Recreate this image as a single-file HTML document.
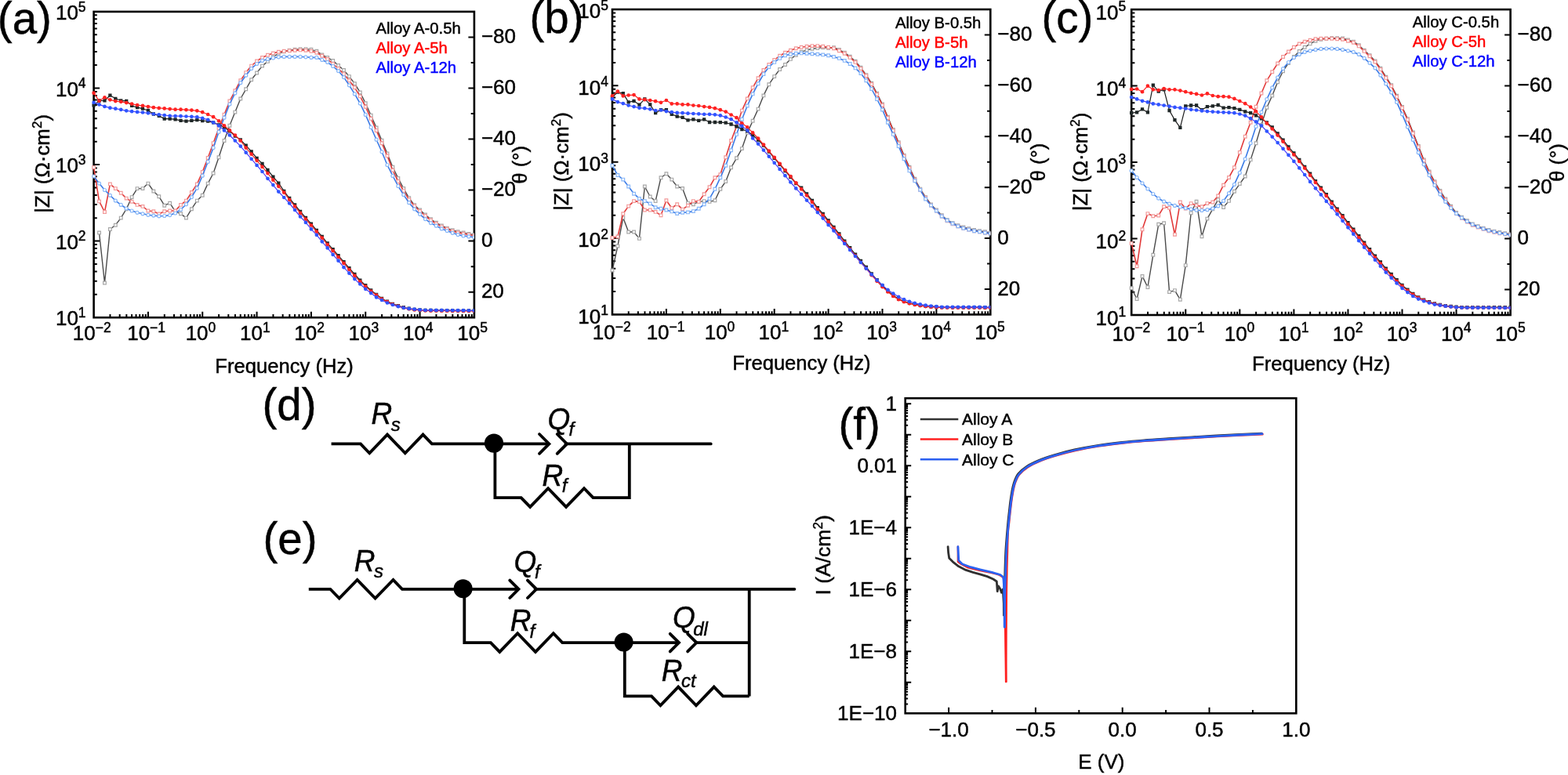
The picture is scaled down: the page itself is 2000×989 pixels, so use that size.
<!DOCTYPE html>
<html><head><meta charset="utf-8"><title>EIS figure</title>
<style>html,body{margin:0;padding:0;background:#fff;width:2000px;height:989px;overflow:hidden}svg{display:block}text{stroke:#000;stroke-width:0.45px}</style>
</head><body>
<svg width="2000" height="989" viewBox="0 0 2000 989" font-family='"Liberation Sans", Arial, sans-serif'>
<rect width="2000" height="989" fill="#fff"/>
<path d="M140.47 405.2v-4.2M152.68 405.2v-4.2M161.34 405.2v-4.2M168.06 405.2v-4.2M173.55 405.2v-4.2M178.19 405.2v-4.2M182.21 405.2v-4.2M185.76 405.2v-4.2M188.93 405.2v-7.5M209.8 405.2v-4.2M222.01 405.2v-4.2M230.67 405.2v-4.2M237.39 405.2v-4.2M242.88 405.2v-4.2M247.52 405.2v-4.2M251.54 405.2v-4.2M255.08 405.2v-4.2M258.26 405.2v-7.5M279.13 405.2v-4.2M291.34 405.2v-4.2M300 405.2v-4.2M306.72 405.2v-4.2M312.21 405.2v-4.2M316.85 405.2v-4.2M320.87 405.2v-4.2M324.41 405.2v-4.2M327.59 405.2v-7.5M348.46 405.2v-4.2M360.66 405.2v-4.2M369.33 405.2v-4.2M376.04 405.2v-4.2M381.53 405.2v-4.2M386.18 405.2v-4.2M390.2 405.2v-4.2M393.74 405.2v-4.2M396.91 405.2v-7.5M417.78 405.2v-4.2M429.99 405.2v-4.2M438.65 405.2v-4.2M445.37 405.2v-4.2M450.86 405.2v-4.2M455.5 405.2v-4.2M459.52 405.2v-4.2M463.07 405.2v-4.2M466.24 405.2v-7.5M487.11 405.2v-4.2M499.32 405.2v-4.2M507.98 405.2v-4.2M514.7 405.2v-4.2M520.19 405.2v-4.2M524.83 405.2v-4.2M528.85 405.2v-4.2M532.4 405.2v-4.2M535.57 405.2v-7.5M556.44 405.2v-4.2M568.65 405.2v-4.2M577.31 405.2v-4.2M584.03 405.2v-4.2M589.52 405.2v-4.2M594.16 405.2v-4.2M598.18 405.2v-4.2M601.73 405.2v-4.2M119.6 375.83h4.2M119.6 358.64h4.2M119.6 346.45h4.2M119.6 337h4.2M119.6 329.27h4.2M119.6 322.74h4.2M119.6 317.08h4.2M119.6 312.09h4.2M119.6 307.62h7.5M119.6 278.25h4.2M119.6 261.07h4.2M119.6 248.88h4.2M119.6 239.42h4.2M119.6 231.7h4.2M119.6 225.16h4.2M119.6 219.51h4.2M119.6 214.51h4.2M119.6 210.05h7.5M119.6 180.68h4.2M119.6 163.49h4.2M119.6 151.3h4.2M119.6 141.85h4.2M119.6 134.12h4.2M119.6 127.59h4.2M119.6 121.93h4.2M119.6 116.94h4.2M119.6 112.47h7.5M119.6 83.1h4.2M119.6 65.92h4.2M119.6 53.73h4.2M119.6 44.27h4.2M119.6 36.55h4.2M119.6 30.01h4.2M119.6 24.36h4.2M119.6 19.36h4.2M604.9 47.42h-7.5M604.9 79.95h-4.2M604.9 112.48h-7.5M604.9 145h-4.2M604.9 177.53h-7.5M604.9 210.05h-4.2M604.9 242.57h-7.5M604.9 275.1h-4.2M604.9 307.62h-7.5M604.9 340.15h-4.2M604.9 372.67h-7.5" stroke="#000" stroke-width="2.0" fill="none"/>
<rect x="119.6" y="14.9" width="485.3" height="390.3" fill="none" stroke="#000" stroke-width="2.6"/>
<text x="109.6" y="415.4" text-anchor="end" font-size="26">10<tspan font-size="17.5" dy="-10.5">1</tspan></text>
<text x="109.6" y="317.82" text-anchor="end" font-size="26">10<tspan font-size="17.5" dy="-10.5">2</tspan></text>
<text x="109.6" y="220.25" text-anchor="end" font-size="26">10<tspan font-size="17.5" dy="-10.5">3</tspan></text>
<text x="109.6" y="122.67" text-anchor="end" font-size="26">10<tspan font-size="17.5" dy="-10.5">4</tspan></text>
<text x="109.6" y="25.1" text-anchor="end" font-size="26">10<tspan font-size="17.5" dy="-10.5">5</tspan></text>
<text x="117.3" y="434" text-anchor="middle" font-size="26">10<tspan font-size="17.5" dy="-10.5">−2</tspan></text>
<text x="186.63" y="434" text-anchor="middle" font-size="26">10<tspan font-size="17.5" dy="-10.5">−1</tspan></text>
<text x="255.96" y="434" text-anchor="middle" font-size="26">10<tspan font-size="17.5" dy="-10.5">0</tspan></text>
<text x="325.29" y="434" text-anchor="middle" font-size="26">10<tspan font-size="17.5" dy="-10.5">1</tspan></text>
<text x="394.61" y="434" text-anchor="middle" font-size="26">10<tspan font-size="17.5" dy="-10.5">2</tspan></text>
<text x="463.94" y="434" text-anchor="middle" font-size="26">10<tspan font-size="17.5" dy="-10.5">3</tspan></text>
<text x="533.27" y="434" text-anchor="middle" font-size="26">10<tspan font-size="17.5" dy="-10.5">4</tspan></text>
<text x="602.6" y="434" text-anchor="middle" font-size="26">10<tspan font-size="17.5" dy="-10.5">5</tspan></text>
<text x="613.9" y="55.22" font-size="26">−80</text>
<text x="613.9" y="120.28" font-size="26">−60</text>
<text x="613.9" y="185.33" font-size="26">−40</text>
<text x="613.9" y="250.38" font-size="26">−20</text>
<text x="613.9" y="315.43" font-size="26">0</text>
<text x="613.9" y="380.47" font-size="26">20</text>
<path d="M801.74 401.4v-4.2M813.87 401.4v-4.2M822.48 401.4v-4.2M829.16 401.4v-4.2M834.61 401.4v-4.2M839.23 401.4v-4.2M843.22 401.4v-4.2M846.75 401.4v-4.2M849.9 401.4v-7.5M870.64 401.4v-4.2M882.77 401.4v-4.2M891.38 401.4v-4.2M898.06 401.4v-4.2M903.51 401.4v-4.2M908.13 401.4v-4.2M912.12 401.4v-4.2M915.65 401.4v-4.2M918.8 401.4v-7.5M939.54 401.4v-4.2M951.67 401.4v-4.2M960.28 401.4v-4.2M966.96 401.4v-4.2M972.41 401.4v-4.2M977.03 401.4v-4.2M981.02 401.4v-4.2M984.55 401.4v-4.2M987.7 401.4v-7.5M1008.44 401.4v-4.2M1020.57 401.4v-4.2M1029.18 401.4v-4.2M1035.86 401.4v-4.2M1041.31 401.4v-4.2M1045.93 401.4v-4.2M1049.92 401.4v-4.2M1053.45 401.4v-4.2M1056.6 401.4v-7.5M1077.34 401.4v-4.2M1089.47 401.4v-4.2M1098.08 401.4v-4.2M1104.76 401.4v-4.2M1110.21 401.4v-4.2M1114.83 401.4v-4.2M1118.82 401.4v-4.2M1122.35 401.4v-4.2M1125.5 401.4v-7.5M1146.24 401.4v-4.2M1158.37 401.4v-4.2M1166.98 401.4v-4.2M1173.66 401.4v-4.2M1179.11 401.4v-4.2M1183.73 401.4v-4.2M1187.72 401.4v-4.2M1191.25 401.4v-4.2M1194.4 401.4v-7.5M1215.14 401.4v-4.2M1227.27 401.4v-4.2M1235.88 401.4v-4.2M1242.56 401.4v-4.2M1248.01 401.4v-4.2M1252.63 401.4v-4.2M1256.62 401.4v-4.2M1260.15 401.4v-4.2M781 372.09h4.2M781 354.95h4.2M781 342.79h4.2M781 333.36h4.2M781 325.65h4.2M781 319.13h4.2M781 313.48h4.2M781 308.5h4.2M781 304.05h7.5M781 274.74h4.2M781 257.6h4.2M781 245.44h4.2M781 236.01h4.2M781 228.3h4.2M781 221.78h4.2M781 216.13h4.2M781 211.15h4.2M781 206.7h7.5M781 177.39h4.2M781 160.25h4.2M781 148.09h4.2M781 138.66h4.2M781 130.95h4.2M781 124.43h4.2M781 118.78h4.2M781 113.8h4.2M781 109.35h7.5M781 80.04h4.2M781 62.9h4.2M781 50.74h4.2M781 41.31h4.2M781 33.6h4.2M781 27.08h4.2M781 21.43h4.2M781 16.45h4.2M1263.3 44.45h-7.5M1263.3 76.9h-4.2M1263.3 109.35h-7.5M1263.3 141.8h-4.2M1263.3 174.25h-7.5M1263.3 206.7h-4.2M1263.3 239.15h-7.5M1263.3 271.6h-4.2M1263.3 304.05h-7.5M1263.3 336.5h-4.2M1263.3 368.95h-7.5" stroke="#000" stroke-width="2.0" fill="none"/>
<rect x="781" y="12" width="482.3" height="389.4" fill="none" stroke="#000" stroke-width="2.6"/>
<text x="776" y="412.8" text-anchor="end" font-size="26">10<tspan font-size="17.5" dy="-10.5">1</tspan></text>
<text x="776" y="315.45" text-anchor="end" font-size="26">10<tspan font-size="17.5" dy="-10.5">2</tspan></text>
<text x="776" y="218.1" text-anchor="end" font-size="26">10<tspan font-size="17.5" dy="-10.5">3</tspan></text>
<text x="776" y="120.75" text-anchor="end" font-size="26">10<tspan font-size="17.5" dy="-10.5">4</tspan></text>
<text x="776" y="23.4" text-anchor="end" font-size="26">10<tspan font-size="17.5" dy="-10.5">5</tspan></text>
<text x="780.2" y="433" text-anchor="middle" font-size="26">10<tspan font-size="17.5" dy="-10.5">−2</tspan></text>
<text x="849.1" y="433" text-anchor="middle" font-size="26">10<tspan font-size="17.5" dy="-10.5">−1</tspan></text>
<text x="918" y="433" text-anchor="middle" font-size="26">10<tspan font-size="17.5" dy="-10.5">0</tspan></text>
<text x="986.9" y="433" text-anchor="middle" font-size="26">10<tspan font-size="17.5" dy="-10.5">1</tspan></text>
<text x="1055.8" y="433" text-anchor="middle" font-size="26">10<tspan font-size="17.5" dy="-10.5">2</tspan></text>
<text x="1124.7" y="433" text-anchor="middle" font-size="26">10<tspan font-size="17.5" dy="-10.5">3</tspan></text>
<text x="1193.6" y="433" text-anchor="middle" font-size="26">10<tspan font-size="17.5" dy="-10.5">4</tspan></text>
<text x="1262.5" y="433" text-anchor="middle" font-size="26">10<tspan font-size="17.5" dy="-10.5">5</tspan></text>
<text x="1272.3" y="52.25" font-size="26">−80</text>
<text x="1272.3" y="117.15" font-size="26">−60</text>
<text x="1272.3" y="182.05" font-size="26">−40</text>
<text x="1272.3" y="246.95" font-size="26">−20</text>
<text x="1272.3" y="311.85" font-size="26">0</text>
<text x="1272.3" y="376.75" font-size="26">20</text>
<path d="M1463.99 402v-4.2M1476.15 402v-4.2M1484.78 402v-4.2M1491.47 402v-4.2M1496.94 402v-4.2M1501.56 402v-4.2M1505.56 402v-4.2M1509.1 402v-4.2M1512.26 402v-7.5M1533.05 402v-4.2M1545.21 402v-4.2M1553.83 402v-4.2M1560.53 402v-4.2M1565.99 402v-4.2M1570.62 402v-4.2M1574.62 402v-4.2M1578.15 402v-4.2M1581.31 402v-7.5M1602.1 402v-4.2M1614.26 402v-4.2M1622.89 402v-4.2M1629.58 402v-4.2M1635.05 402v-4.2M1639.67 402v-4.2M1643.68 402v-4.2M1647.21 402v-4.2M1650.37 402v-7.5M1671.16 402v-4.2M1683.32 402v-4.2M1691.95 402v-4.2M1698.64 402v-4.2M1704.11 402v-4.2M1708.73 402v-4.2M1712.74 402v-4.2M1716.27 402v-4.2M1719.43 402v-7.5M1740.22 402v-4.2M1752.38 402v-4.2M1761.01 402v-4.2M1767.7 402v-4.2M1773.17 402v-4.2M1777.79 402v-4.2M1781.79 402v-4.2M1785.33 402v-4.2M1788.49 402v-7.5M1809.27 402v-4.2M1821.43 402v-4.2M1830.06 402v-4.2M1836.75 402v-4.2M1842.22 402v-4.2M1846.85 402v-4.2M1850.85 402v-4.2M1854.38 402v-4.2M1857.54 402v-7.5M1878.33 402v-4.2M1890.49 402v-4.2M1899.12 402v-4.2M1905.81 402v-4.2M1911.28 402v-4.2M1915.9 402v-4.2M1919.91 402v-4.2M1923.44 402v-4.2M1443.2 372.66h4.2M1443.2 355.49h4.2M1443.2 343.31h4.2M1443.2 333.87h4.2M1443.2 326.15h4.2M1443.2 319.62h4.2M1443.2 313.97h4.2M1443.2 308.99h4.2M1443.2 304.52h7.5M1443.2 275.18h4.2M1443.2 258.02h4.2M1443.2 245.84h4.2M1443.2 236.39h4.2M1443.2 228.67h4.2M1443.2 222.15h4.2M1443.2 216.5h4.2M1443.2 211.51h4.2M1443.2 207.05h7.5M1443.2 177.71h4.2M1443.2 160.54h4.2M1443.2 148.36h4.2M1443.2 138.92h4.2M1443.2 131.2h4.2M1443.2 124.67h4.2M1443.2 119.02h4.2M1443.2 114.04h4.2M1443.2 109.58h7.5M1443.2 80.23h4.2M1443.2 63.07h4.2M1443.2 50.89h4.2M1443.2 41.44h4.2M1443.2 33.72h4.2M1443.2 27.2h4.2M1443.2 21.55h4.2M1443.2 16.56h4.2M1926.6 44.59h-7.5M1926.6 77.08h-4.2M1926.6 109.57h-7.5M1926.6 142.07h-4.2M1926.6 174.56h-7.5M1926.6 207.05h-4.2M1926.6 239.54h-7.5M1926.6 272.03h-4.2M1926.6 304.53h-7.5M1926.6 337.02h-4.2M1926.6 369.51h-7.5" stroke="#000" stroke-width="2.0" fill="none"/>
<rect x="1443.2" y="12.1" width="483.4" height="389.9" fill="none" stroke="#000" stroke-width="2.6"/>
<text x="1436.2" y="414.8" text-anchor="end" font-size="26">10<tspan font-size="17.5" dy="-10.5">1</tspan></text>
<text x="1436.2" y="317.32" text-anchor="end" font-size="26">10<tspan font-size="17.5" dy="-10.5">2</tspan></text>
<text x="1436.2" y="219.85" text-anchor="end" font-size="26">10<tspan font-size="17.5" dy="-10.5">3</tspan></text>
<text x="1436.2" y="122.38" text-anchor="end" font-size="26">10<tspan font-size="17.5" dy="-10.5">4</tspan></text>
<text x="1436.2" y="24.9" text-anchor="end" font-size="26">10<tspan font-size="17.5" dy="-10.5">5</tspan></text>
<text x="1442.9" y="434.5" text-anchor="middle" font-size="26">10<tspan font-size="17.5" dy="-10.5">−2</tspan></text>
<text x="1511.96" y="434.5" text-anchor="middle" font-size="26">10<tspan font-size="17.5" dy="-10.5">−1</tspan></text>
<text x="1581.01" y="434.5" text-anchor="middle" font-size="26">10<tspan font-size="17.5" dy="-10.5">0</tspan></text>
<text x="1650.07" y="434.5" text-anchor="middle" font-size="26">10<tspan font-size="17.5" dy="-10.5">1</tspan></text>
<text x="1719.13" y="434.5" text-anchor="middle" font-size="26">10<tspan font-size="17.5" dy="-10.5">2</tspan></text>
<text x="1788.19" y="434.5" text-anchor="middle" font-size="26">10<tspan font-size="17.5" dy="-10.5">3</tspan></text>
<text x="1857.24" y="434.5" text-anchor="middle" font-size="26">10<tspan font-size="17.5" dy="-10.5">4</tspan></text>
<text x="1926.3" y="434.5" text-anchor="middle" font-size="26">10<tspan font-size="17.5" dy="-10.5">5</tspan></text>
<text x="1935.6" y="52.39" font-size="26">−80</text>
<text x="1935.6" y="117.37" font-size="26">−60</text>
<text x="1935.6" y="182.36" font-size="26">−40</text>
<text x="1935.6" y="247.34" font-size="26">−20</text>
<text x="1935.6" y="312.33" font-size="26">0</text>
<text x="1935.6" y="377.31" font-size="26">20</text>
<clipPath id="clipa"><rect x="113.6" y="14.9" width="491.3" height="390.3"/></clipPath>
<g clip-path="url(#clipa)">
<polyline points="126.53,297 133.47,361 140.4,292.5 147.33,287.2 154.26,278.1 161.2,266.7 168.13,251.6 175.06,240.6 182,240.6 188.93,234.1 195.86,244 202.79,250.8 209.73,262.2 216.66,259.2 223.59,269.8 230.53,272.8 237.46,278.1 244.39,266.7 251.32,256.1 258.26,249.3 265.19,234.1 272.12,221 279.06,200.8 285.99,179.5 292.92,160.3 299.85,143.1 306.79,126 313.72,113.8 320.65,101.7 327.59,93 334.52,84.1 341.45,78.4 348.38,72.4 355.32,68.3 362.25,65.9 369.18,64.3 376.12,63.3 383.05,62.6 389.98,62.6 396.91,63.3 403.85,65.3 410.78,69.9 417.71,73.5 424.65,77.4 431.58,83.5 438.51,89.5 445.44,97.6 452.38,106.7 459.31,117.9 466.24,131.7 473.18,147.3 480.11,163 487.04,179.2 493.97,195.9 500.91,213.2 507.84,227.4 514.77,240.5 521.71,252.7 528.64,261.8 535.57,268 542.5,274 549.44,279.8 556.37,284.3 563.3,287.9 570.24,291.1 577.17,293.8 584.1,295.7 591.03,297 597.97,298.4 604.9,299.8" fill="none" stroke="#4a4a4a" stroke-width="1.4" stroke-linejoin="round"/>
<path d="M124.68 295.15h3.7v3.7h-3.7zM131.62 359.15h3.7v3.7h-3.7zM138.55 290.65h3.7v3.7h-3.7zM145.48 285.35h3.7v3.7h-3.7zM152.41 276.25h3.7v3.7h-3.7zM159.35 264.85h3.7v3.7h-3.7zM166.28 249.75h3.7v3.7h-3.7zM173.21 238.75h3.7v3.7h-3.7zM180.15 238.75h3.7v3.7h-3.7zM187.08 232.25h3.7v3.7h-3.7zM194.01 242.15h3.7v3.7h-3.7zM200.94 248.95h3.7v3.7h-3.7zM207.88 260.35h3.7v3.7h-3.7zM214.81 257.35h3.7v3.7h-3.7zM221.74 267.95h3.7v3.7h-3.7zM228.68 270.95h3.7v3.7h-3.7zM235.61 276.25h3.7v3.7h-3.7zM242.54 264.85h3.7v3.7h-3.7zM249.47 254.25h3.7v3.7h-3.7zM256.41 247.45h3.7v3.7h-3.7zM263.34 232.25h3.7v3.7h-3.7zM270.27 219.15h3.7v3.7h-3.7zM277.21 198.95h3.7v3.7h-3.7zM284.14 177.65h3.7v3.7h-3.7zM291.07 158.45h3.7v3.7h-3.7zM298 141.25h3.7v3.7h-3.7zM304.94 124.15h3.7v3.7h-3.7zM311.87 111.95h3.7v3.7h-3.7zM318.8 99.85h3.7v3.7h-3.7zM325.74 91.15h3.7v3.7h-3.7zM332.67 82.25h3.7v3.7h-3.7zM339.6 76.55h3.7v3.7h-3.7zM346.53 70.55h3.7v3.7h-3.7zM353.47 66.45h3.7v3.7h-3.7zM360.4 64.05h3.7v3.7h-3.7zM367.33 62.45h3.7v3.7h-3.7zM374.27 61.45h3.7v3.7h-3.7zM381.2 60.75h3.7v3.7h-3.7zM388.13 60.75h3.7v3.7h-3.7zM395.06 61.45h3.7v3.7h-3.7zM402 63.45h3.7v3.7h-3.7zM408.93 68.05h3.7v3.7h-3.7zM415.86 71.65h3.7v3.7h-3.7zM422.8 75.55h3.7v3.7h-3.7zM429.73 81.65h3.7v3.7h-3.7zM436.66 87.65h3.7v3.7h-3.7zM443.59 95.75h3.7v3.7h-3.7zM450.53 104.85h3.7v3.7h-3.7zM457.46 116.05h3.7v3.7h-3.7zM464.39 129.85h3.7v3.7h-3.7zM471.33 145.45h3.7v3.7h-3.7zM478.26 161.15h3.7v3.7h-3.7zM485.19 177.35h3.7v3.7h-3.7zM492.12 194.05h3.7v3.7h-3.7zM499.06 211.35h3.7v3.7h-3.7zM505.99 225.55h3.7v3.7h-3.7zM512.92 238.65h3.7v3.7h-3.7zM519.86 250.85h3.7v3.7h-3.7zM526.79 259.95h3.7v3.7h-3.7zM533.72 266.15h3.7v3.7h-3.7zM540.65 272.15h3.7v3.7h-3.7zM547.59 277.95h3.7v3.7h-3.7zM554.52 282.45h3.7v3.7h-3.7zM561.45 286.05h3.7v3.7h-3.7zM568.39 289.25h3.7v3.7h-3.7zM575.32 291.95h3.7v3.7h-3.7zM582.25 293.85h3.7v3.7h-3.7zM589.18 295.15h3.7v3.7h-3.7zM596.12 296.55h3.7v3.7h-3.7zM603.05 297.95h3.7v3.7h-3.7z" fill="#fff" stroke="#a8a8a8" stroke-width="1.2"/>
<polyline points="119.6,213.6 126.53,256.9 133.47,270.5 140.4,234.9 147.33,240.6 154.26,246.3 161.2,253.1 168.13,257.3 175.06,261.4 182,263.4 188.93,269 195.86,269.8 202.79,273 209.73,269.8 216.66,269 223.59,269 230.53,261.4 237.46,256.1 244.39,245.5 251.32,234.9 258.26,219.4 265.19,201.5 272.12,182.6 279.06,163.4 285.99,146.2 292.92,129 299.85,115.8 306.79,102.7 313.72,92.6 320.65,84.1 327.59,78 334.52,73.4 341.45,70.3 348.38,67.9 355.32,66.3 362.25,65.3 369.18,64.7 376.12,64.3 383.05,63.9 389.98,64.3 396.91,65.3 403.85,67.3 410.78,71.3 417.71,75.4 424.65,81.5 431.58,87.5 438.51,94.6 445.44,102.7 452.38,111.8 459.31,122.9 466.24,136.2 473.18,151.4 480.11,166.6 487.04,182.7 493.97,198.9 500.91,217.3 507.84,231.4 514.77,243.6 521.71,254.7 528.64,263 535.57,269.5 542.5,275.5 549.44,281 556.37,285.5 563.3,289.1 570.24,292.3 577.17,295 584.1,296.9 591.03,298.2 597.97,299.6 604.9,301" fill="none" stroke="#e23a3a" stroke-width="1.6" stroke-linejoin="round"/>
<path d="M117.75 211.75h3.7v3.7h-3.7zM124.68 255.05h3.7v3.7h-3.7zM131.62 268.65h3.7v3.7h-3.7zM138.55 233.05h3.7v3.7h-3.7zM145.48 238.75h3.7v3.7h-3.7zM152.41 244.45h3.7v3.7h-3.7zM159.35 251.25h3.7v3.7h-3.7zM166.28 255.45h3.7v3.7h-3.7zM173.21 259.55h3.7v3.7h-3.7zM180.15 261.55h3.7v3.7h-3.7zM187.08 267.15h3.7v3.7h-3.7zM194.01 267.95h3.7v3.7h-3.7zM200.94 271.15h3.7v3.7h-3.7zM207.88 267.95h3.7v3.7h-3.7zM214.81 267.15h3.7v3.7h-3.7zM221.74 267.15h3.7v3.7h-3.7zM228.68 259.55h3.7v3.7h-3.7zM235.61 254.25h3.7v3.7h-3.7zM242.54 243.65h3.7v3.7h-3.7zM249.47 233.05h3.7v3.7h-3.7zM256.41 217.55h3.7v3.7h-3.7zM263.34 199.65h3.7v3.7h-3.7zM270.27 180.75h3.7v3.7h-3.7zM277.21 161.55h3.7v3.7h-3.7zM284.14 144.35h3.7v3.7h-3.7zM291.07 127.15h3.7v3.7h-3.7zM298 113.95h3.7v3.7h-3.7zM304.94 100.85h3.7v3.7h-3.7zM311.87 90.75h3.7v3.7h-3.7zM318.8 82.25h3.7v3.7h-3.7zM325.74 76.15h3.7v3.7h-3.7zM332.67 71.55h3.7v3.7h-3.7zM339.6 68.45h3.7v3.7h-3.7zM346.53 66.05h3.7v3.7h-3.7zM353.47 64.45h3.7v3.7h-3.7zM360.4 63.45h3.7v3.7h-3.7zM367.33 62.85h3.7v3.7h-3.7zM374.27 62.45h3.7v3.7h-3.7zM381.2 62.05h3.7v3.7h-3.7zM388.13 62.45h3.7v3.7h-3.7zM395.06 63.45h3.7v3.7h-3.7zM402 65.45h3.7v3.7h-3.7zM408.93 69.45h3.7v3.7h-3.7zM415.86 73.55h3.7v3.7h-3.7zM422.8 79.65h3.7v3.7h-3.7zM429.73 85.65h3.7v3.7h-3.7zM436.66 92.75h3.7v3.7h-3.7zM443.59 100.85h3.7v3.7h-3.7zM450.53 109.95h3.7v3.7h-3.7zM457.46 121.05h3.7v3.7h-3.7zM464.39 134.35h3.7v3.7h-3.7zM471.33 149.55h3.7v3.7h-3.7zM478.26 164.75h3.7v3.7h-3.7zM485.19 180.85h3.7v3.7h-3.7zM492.12 197.05h3.7v3.7h-3.7zM499.06 215.45h3.7v3.7h-3.7zM505.99 229.55h3.7v3.7h-3.7zM512.92 241.75h3.7v3.7h-3.7zM519.86 252.85h3.7v3.7h-3.7zM526.79 261.15h3.7v3.7h-3.7zM533.72 267.65h3.7v3.7h-3.7zM540.65 273.65h3.7v3.7h-3.7zM547.59 279.15h3.7v3.7h-3.7zM554.52 283.65h3.7v3.7h-3.7zM561.45 287.25h3.7v3.7h-3.7zM568.39 290.45h3.7v3.7h-3.7zM575.32 293.15h3.7v3.7h-3.7zM582.25 295.05h3.7v3.7h-3.7zM589.18 296.35h3.7v3.7h-3.7zM596.12 297.75h3.7v3.7h-3.7zM603.05 299.15h3.7v3.7h-3.7z" fill="#fff" stroke="#f29a9a" stroke-width="1.2"/>
<polyline points="119.6,225 126.53,234.1 133.47,242.5 140.4,249.3 147.33,256.1 154.26,261.4 161.2,266 168.13,269 175.06,271.3 182,272.8 188.93,274.3 195.86,275.1 202.79,275.8 209.73,275.5 216.66,274.6 223.59,272 230.53,267.5 237.46,260.7 244.39,251.6 251.32,240.2 258.26,224.2 265.19,206.5 272.12,188.6 279.06,168.4 285.99,150.2 292.92,133 299.85,118.9 306.79,105.7 313.72,96.2 320.65,87.5 327.59,81.5 334.52,77.4 341.45,75.4 348.38,74 355.32,72.8 362.25,72.4 369.18,72.4 376.12,72.4 383.05,72.4 389.98,72.8 396.91,73.4 403.85,73.4 410.78,76.4 417.71,79.4 424.65,84.5 431.58,90.6 438.51,98.6 445.44,108.8 452.38,119.9 459.31,132 466.24,146.4 473.18,162.5 480.11,178.2 487.04,193.8 493.97,210.5 500.91,224.4 507.84,237.5 514.77,248.6 521.71,258.7 528.64,266.8 535.57,273.3 542.5,279.6 549.44,284.6 556.37,288.2 563.3,291.9 570.24,294.6 577.17,297.3 584.1,299.6 591.03,301 597.97,301.9 604.9,302.8" fill="none" stroke="#3b7be6" stroke-width="1.6" stroke-linejoin="round"/>
<g fill="#fff" stroke="#8ab8f8" stroke-width="1.2"><circle cx="119.6" cy="225" r="2.0"/><circle cx="126.53" cy="234.1" r="2.0"/><circle cx="133.47" cy="242.5" r="2.0"/><circle cx="140.4" cy="249.3" r="2.0"/><circle cx="147.33" cy="256.1" r="2.0"/><circle cx="154.26" cy="261.4" r="2.0"/><circle cx="161.2" cy="266" r="2.0"/><circle cx="168.13" cy="269" r="2.0"/><circle cx="175.06" cy="271.3" r="2.0"/><circle cx="182" cy="272.8" r="2.0"/><circle cx="188.93" cy="274.3" r="2.0"/><circle cx="195.86" cy="275.1" r="2.0"/><circle cx="202.79" cy="275.8" r="2.0"/><circle cx="209.73" cy="275.5" r="2.0"/><circle cx="216.66" cy="274.6" r="2.0"/><circle cx="223.59" cy="272" r="2.0"/><circle cx="230.53" cy="267.5" r="2.0"/><circle cx="237.46" cy="260.7" r="2.0"/><circle cx="244.39" cy="251.6" r="2.0"/><circle cx="251.32" cy="240.2" r="2.0"/><circle cx="258.26" cy="224.2" r="2.0"/><circle cx="265.19" cy="206.5" r="2.0"/><circle cx="272.12" cy="188.6" r="2.0"/><circle cx="279.06" cy="168.4" r="2.0"/><circle cx="285.99" cy="150.2" r="2.0"/><circle cx="292.92" cy="133" r="2.0"/><circle cx="299.85" cy="118.9" r="2.0"/><circle cx="306.79" cy="105.7" r="2.0"/><circle cx="313.72" cy="96.2" r="2.0"/><circle cx="320.65" cy="87.5" r="2.0"/><circle cx="327.59" cy="81.5" r="2.0"/><circle cx="334.52" cy="77.4" r="2.0"/><circle cx="341.45" cy="75.4" r="2.0"/><circle cx="348.38" cy="74" r="2.0"/><circle cx="355.32" cy="72.8" r="2.0"/><circle cx="362.25" cy="72.4" r="2.0"/><circle cx="369.18" cy="72.4" r="2.0"/><circle cx="376.12" cy="72.4" r="2.0"/><circle cx="383.05" cy="72.4" r="2.0"/><circle cx="389.98" cy="72.8" r="2.0"/><circle cx="396.91" cy="73.4" r="2.0"/><circle cx="403.85" cy="73.4" r="2.0"/><circle cx="410.78" cy="76.4" r="2.0"/><circle cx="417.71" cy="79.4" r="2.0"/><circle cx="424.65" cy="84.5" r="2.0"/><circle cx="431.58" cy="90.6" r="2.0"/><circle cx="438.51" cy="98.6" r="2.0"/><circle cx="445.44" cy="108.8" r="2.0"/><circle cx="452.38" cy="119.9" r="2.0"/><circle cx="459.31" cy="132" r="2.0"/><circle cx="466.24" cy="146.4" r="2.0"/><circle cx="473.18" cy="162.5" r="2.0"/><circle cx="480.11" cy="178.2" r="2.0"/><circle cx="487.04" cy="193.8" r="2.0"/><circle cx="493.97" cy="210.5" r="2.0"/><circle cx="500.91" cy="224.4" r="2.0"/><circle cx="507.84" cy="237.5" r="2.0"/><circle cx="514.77" cy="248.6" r="2.0"/><circle cx="521.71" cy="258.7" r="2.0"/><circle cx="528.64" cy="266.8" r="2.0"/><circle cx="535.57" cy="273.3" r="2.0"/><circle cx="542.5" cy="279.6" r="2.0"/><circle cx="549.44" cy="284.6" r="2.0"/><circle cx="556.37" cy="288.2" r="2.0"/><circle cx="563.3" cy="291.9" r="2.0"/><circle cx="570.24" cy="294.6" r="2.0"/><circle cx="577.17" cy="297.3" r="2.0"/><circle cx="584.1" cy="299.6" r="2.0"/><circle cx="591.03" cy="301" r="2.0"/><circle cx="597.97" cy="301.9" r="2.0"/><circle cx="604.9" cy="302.8" r="2.0"/></g>
<polyline points="119.6,134.4 126.53,128.5 133.47,128.3 140.4,121.7 147.33,125.8 154.26,128.3 161.2,128.8 168.13,134.9 175.06,137.2 182,138.7 188.93,141 195.86,145.5 202.79,147.8 209.73,151.6 216.66,151.6 223.59,152.3 230.53,153.8 237.46,154.6 244.39,153.8 251.32,153.1 258.26,154 265.19,154.6 272.12,156.3 279.06,159.3 285.99,162.3 292.92,167.4 299.85,173.5 306.79,178.5 313.72,185.6 320.65,193.3 327.59,201.8 334.52,208.9 341.45,217 348.38,225.6 355.32,233.7 362.25,243.9 369.18,253 376.12,261.5 383.05,270 389.98,277.8 396.91,285.7 403.85,293.8 410.78,301.8 417.71,310.3 424.65,318.2 431.58,326.2 438.51,334.1 445.44,342.2 452.38,350 459.31,357.73 466.24,364.25 473.18,370.48 480.11,375.8 487.04,380.93 493.97,384.66 500.91,387.86 507.84,390.16 514.77,392.26 521.71,393.76 528.64,394.86 535.57,395.46 542.5,395.96 549.44,396.02 556.37,396.07 563.3,396.13 570.24,396.18 577.17,396.24 584.1,396.29 591.03,396.35 597.97,396.4 604.9,396.46" fill="none" stroke="#1c1c1c" stroke-width="1.2" stroke-linejoin="round"/>
<path d="M117.45 132.25h4.3v4.3h-4.3zM124.38 126.35h4.3v4.3h-4.3zM131.32 126.15h4.3v4.3h-4.3zM138.25 119.55h4.3v4.3h-4.3zM145.18 123.65h4.3v4.3h-4.3zM152.11 126.15h4.3v4.3h-4.3zM159.05 126.65h4.3v4.3h-4.3zM165.98 132.75h4.3v4.3h-4.3zM172.91 135.05h4.3v4.3h-4.3zM179.85 136.55h4.3v4.3h-4.3zM186.78 138.85h4.3v4.3h-4.3zM193.71 143.35h4.3v4.3h-4.3zM200.64 145.65h4.3v4.3h-4.3zM207.58 149.45h4.3v4.3h-4.3zM214.51 149.45h4.3v4.3h-4.3zM221.44 150.15h4.3v4.3h-4.3zM228.38 151.65h4.3v4.3h-4.3zM235.31 152.45h4.3v4.3h-4.3zM242.24 151.65h4.3v4.3h-4.3zM249.17 150.95h4.3v4.3h-4.3zM256.11 151.85h4.3v4.3h-4.3zM263.04 152.45h4.3v4.3h-4.3zM269.97 154.15h4.3v4.3h-4.3zM276.91 157.15h4.3v4.3h-4.3zM283.84 160.15h4.3v4.3h-4.3zM290.77 165.25h4.3v4.3h-4.3zM297.7 171.35h4.3v4.3h-4.3zM304.64 176.35h4.3v4.3h-4.3zM311.57 183.45h4.3v4.3h-4.3zM318.5 191.15h4.3v4.3h-4.3zM325.44 199.65h4.3v4.3h-4.3zM332.37 206.75h4.3v4.3h-4.3zM339.3 214.85h4.3v4.3h-4.3zM346.23 223.45h4.3v4.3h-4.3zM353.17 231.55h4.3v4.3h-4.3zM360.1 241.75h4.3v4.3h-4.3zM367.03 250.85h4.3v4.3h-4.3zM373.97 259.35h4.3v4.3h-4.3zM380.9 267.85h4.3v4.3h-4.3zM387.83 275.65h4.3v4.3h-4.3zM394.76 283.55h4.3v4.3h-4.3zM401.7 291.65h4.3v4.3h-4.3zM408.63 299.65h4.3v4.3h-4.3zM415.56 308.15h4.3v4.3h-4.3zM422.5 316.05h4.3v4.3h-4.3zM429.43 324.05h4.3v4.3h-4.3zM436.36 331.95h4.3v4.3h-4.3zM443.29 340.05h4.3v4.3h-4.3zM450.23 347.85h4.3v4.3h-4.3zM457.16 355.58h4.3v4.3h-4.3zM464.09 362.1h4.3v4.3h-4.3zM471.03 368.33h4.3v4.3h-4.3zM477.96 373.65h4.3v4.3h-4.3zM484.89 378.78h4.3v4.3h-4.3zM491.82 382.51h4.3v4.3h-4.3zM498.76 385.71h4.3v4.3h-4.3zM505.69 388.01h4.3v4.3h-4.3zM512.62 390.11h4.3v4.3h-4.3zM519.56 391.61h4.3v4.3h-4.3zM526.49 392.71h4.3v4.3h-4.3zM533.42 393.31h4.3v4.3h-4.3zM540.35 393.81h4.3v4.3h-4.3zM547.29 393.87h4.3v4.3h-4.3zM554.22 393.92h4.3v4.3h-4.3zM561.15 393.98h4.3v4.3h-4.3zM568.09 394.03h4.3v4.3h-4.3zM575.02 394.09h4.3v4.3h-4.3zM581.95 394.14h4.3v4.3h-4.3zM588.88 394.2h4.3v4.3h-4.3zM595.82 394.25h4.3v4.3h-4.3zM602.75 394.31h4.3v4.3h-4.3z" fill="#1e2626"/>
<polyline points="119.6,118.7 126.53,128.8 133.47,124.3 140.4,127.3 147.33,129.1 154.26,129.8 161.2,131.1 168.13,132.6 175.06,134.1 182,134.9 188.93,136.1 195.86,137.2 202.79,137.9 209.73,138.4 216.66,139.1 223.59,139.7 230.53,139.7 237.46,140.2 244.39,140.6 251.32,141.3 258.26,143.2 265.19,146 272.12,149.2 279.06,154.3 285.99,160.3 292.92,166.4 299.85,172.5 306.79,179.5 313.72,188.6 320.65,196.7 327.59,204.8 334.52,212.9 341.45,221.1 348.38,229.7 355.32,237.8 362.25,245.7 369.18,254.8 376.12,263.3 383.05,271.8 389.98,279.6 396.91,287.5 403.85,295.6 410.78,303.6 417.71,312.1 424.65,320 431.58,328 438.51,335.9 445.44,344 452.38,351.8 459.31,359.3 466.24,365.6 473.18,371.6 480.11,376.7 487.04,381.6 493.97,385.2 500.91,388.4 507.84,390.7 514.77,392.8 521.71,394.3 528.64,395.4 535.57,396 542.5,396.5 549.44,396.56 556.37,396.61 563.3,396.67 570.24,396.72 577.17,396.78 584.1,396.83 591.03,396.89 597.97,396.94 604.9,397" fill="none" stroke="#ff2020" stroke-width="1.2" stroke-linejoin="round"/>
<g fill="#ff2222"><circle cx="119.6" cy="118.7" r="2.35"/><circle cx="126.53" cy="128.8" r="2.35"/><circle cx="133.47" cy="124.3" r="2.35"/><circle cx="140.4" cy="127.3" r="2.35"/><circle cx="147.33" cy="129.1" r="2.35"/><circle cx="154.26" cy="129.8" r="2.35"/><circle cx="161.2" cy="131.1" r="2.35"/><circle cx="168.13" cy="132.6" r="2.35"/><circle cx="175.06" cy="134.1" r="2.35"/><circle cx="182" cy="134.9" r="2.35"/><circle cx="188.93" cy="136.1" r="2.35"/><circle cx="195.86" cy="137.2" r="2.35"/><circle cx="202.79" cy="137.9" r="2.35"/><circle cx="209.73" cy="138.4" r="2.35"/><circle cx="216.66" cy="139.1" r="2.35"/><circle cx="223.59" cy="139.7" r="2.35"/><circle cx="230.53" cy="139.7" r="2.35"/><circle cx="237.46" cy="140.2" r="2.35"/><circle cx="244.39" cy="140.6" r="2.35"/><circle cx="251.32" cy="141.3" r="2.35"/><circle cx="258.26" cy="143.2" r="2.35"/><circle cx="265.19" cy="146" r="2.35"/><circle cx="272.12" cy="149.2" r="2.35"/><circle cx="279.06" cy="154.3" r="2.35"/><circle cx="285.99" cy="160.3" r="2.35"/><circle cx="292.92" cy="166.4" r="2.35"/><circle cx="299.85" cy="172.5" r="2.35"/><circle cx="306.79" cy="179.5" r="2.35"/><circle cx="313.72" cy="188.6" r="2.35"/><circle cx="320.65" cy="196.7" r="2.35"/><circle cx="327.59" cy="204.8" r="2.35"/><circle cx="334.52" cy="212.9" r="2.35"/><circle cx="341.45" cy="221.1" r="2.35"/><circle cx="348.38" cy="229.7" r="2.35"/><circle cx="355.32" cy="237.8" r="2.35"/><circle cx="362.25" cy="245.7" r="2.35"/><circle cx="369.18" cy="254.8" r="2.35"/><circle cx="376.12" cy="263.3" r="2.35"/><circle cx="383.05" cy="271.8" r="2.35"/><circle cx="389.98" cy="279.6" r="2.35"/><circle cx="396.91" cy="287.5" r="2.35"/><circle cx="403.85" cy="295.6" r="2.35"/><circle cx="410.78" cy="303.6" r="2.35"/><circle cx="417.71" cy="312.1" r="2.35"/><circle cx="424.65" cy="320" r="2.35"/><circle cx="431.58" cy="328" r="2.35"/><circle cx="438.51" cy="335.9" r="2.35"/><circle cx="445.44" cy="344" r="2.35"/><circle cx="452.38" cy="351.8" r="2.35"/><circle cx="459.31" cy="359.3" r="2.35"/><circle cx="466.24" cy="365.6" r="2.35"/><circle cx="473.18" cy="371.6" r="2.35"/><circle cx="480.11" cy="376.7" r="2.35"/><circle cx="487.04" cy="381.6" r="2.35"/><circle cx="493.97" cy="385.2" r="2.35"/><circle cx="500.91" cy="388.4" r="2.35"/><circle cx="507.84" cy="390.7" r="2.35"/><circle cx="514.77" cy="392.8" r="2.35"/><circle cx="521.71" cy="394.3" r="2.35"/><circle cx="528.64" cy="395.4" r="2.35"/><circle cx="535.57" cy="396" r="2.35"/><circle cx="542.5" cy="396.5" r="2.35"/><circle cx="549.44" cy="396.56" r="2.35"/><circle cx="556.37" cy="396.61" r="2.35"/><circle cx="563.3" cy="396.67" r="2.35"/><circle cx="570.24" cy="396.72" r="2.35"/><circle cx="577.17" cy="396.78" r="2.35"/><circle cx="584.1" cy="396.83" r="2.35"/><circle cx="591.03" cy="396.89" r="2.35"/><circle cx="597.97" cy="396.94" r="2.35"/><circle cx="604.9" cy="397" r="2.35"/></g>
<polyline points="119.6,130.8 126.53,133.4 133.47,135.9 140.4,137.7 147.33,138.7 154.26,139.9 161.2,141.3 168.13,142.2 175.06,142.9 182,143.5 188.93,144.3 195.86,145.5 202.79,146.3 209.73,147 216.66,147.8 223.59,148.1 230.53,148.2 237.46,148.5 244.39,148.8 251.32,149.3 258.26,150.8 265.19,152.8 272.12,156.3 279.06,160.3 285.99,166.4 292.92,172.5 299.85,179.5 306.79,186.6 313.72,194.7 320.65,202.8 327.59,210.9 334.52,219 341.45,227.8 348.38,236.1 355.32,244.6 362.25,252 369.18,259.5 376.12,268 383.05,276.5 389.98,283.9 396.91,292.4 403.85,299.8 410.78,308.3 417.71,316.4 424.65,324.9 431.58,332.7 438.51,341.2 445.44,348.7 452.38,356.1 459.31,362.5 466.24,368.8 473.18,374.1 480.11,379.4 487.04,383 493.97,386.5 500.91,389 507.84,391.1 514.77,392.8 521.71,393.9 528.64,394.7 535.57,395.4 542.5,395.8 549.44,395.86 556.37,395.91 563.3,395.97 570.24,396.02 577.17,396.08 584.1,396.13 591.03,396.19 597.97,396.24 604.9,396.3" fill="none" stroke="#4a3cff" stroke-width="1.2" stroke-linejoin="round"/>
<g fill="#2f55ff"><circle cx="119.6" cy="130.8" r="2.35"/><circle cx="126.53" cy="133.4" r="2.35"/><circle cx="133.47" cy="135.9" r="2.35"/><circle cx="140.4" cy="137.7" r="2.35"/><circle cx="147.33" cy="138.7" r="2.35"/><circle cx="154.26" cy="139.9" r="2.35"/><circle cx="161.2" cy="141.3" r="2.35"/><circle cx="168.13" cy="142.2" r="2.35"/><circle cx="175.06" cy="142.9" r="2.35"/><circle cx="182" cy="143.5" r="2.35"/><circle cx="188.93" cy="144.3" r="2.35"/><circle cx="195.86" cy="145.5" r="2.35"/><circle cx="202.79" cy="146.3" r="2.35"/><circle cx="209.73" cy="147" r="2.35"/><circle cx="216.66" cy="147.8" r="2.35"/><circle cx="223.59" cy="148.1" r="2.35"/><circle cx="230.53" cy="148.2" r="2.35"/><circle cx="237.46" cy="148.5" r="2.35"/><circle cx="244.39" cy="148.8" r="2.35"/><circle cx="251.32" cy="149.3" r="2.35"/><circle cx="258.26" cy="150.8" r="2.35"/><circle cx="265.19" cy="152.8" r="2.35"/><circle cx="272.12" cy="156.3" r="2.35"/><circle cx="279.06" cy="160.3" r="2.35"/><circle cx="285.99" cy="166.4" r="2.35"/><circle cx="292.92" cy="172.5" r="2.35"/><circle cx="299.85" cy="179.5" r="2.35"/><circle cx="306.79" cy="186.6" r="2.35"/><circle cx="313.72" cy="194.7" r="2.35"/><circle cx="320.65" cy="202.8" r="2.35"/><circle cx="327.59" cy="210.9" r="2.35"/><circle cx="334.52" cy="219" r="2.35"/><circle cx="341.45" cy="227.8" r="2.35"/><circle cx="348.38" cy="236.1" r="2.35"/><circle cx="355.32" cy="244.6" r="2.35"/><circle cx="362.25" cy="252" r="2.35"/><circle cx="369.18" cy="259.5" r="2.35"/><circle cx="376.12" cy="268" r="2.35"/><circle cx="383.05" cy="276.5" r="2.35"/><circle cx="389.98" cy="283.9" r="2.35"/><circle cx="396.91" cy="292.4" r="2.35"/><circle cx="403.85" cy="299.8" r="2.35"/><circle cx="410.78" cy="308.3" r="2.35"/><circle cx="417.71" cy="316.4" r="2.35"/><circle cx="424.65" cy="324.9" r="2.35"/><circle cx="431.58" cy="332.7" r="2.35"/><circle cx="438.51" cy="341.2" r="2.35"/><circle cx="445.44" cy="348.7" r="2.35"/><circle cx="452.38" cy="356.1" r="2.35"/><circle cx="459.31" cy="362.5" r="2.35"/><circle cx="466.24" cy="368.8" r="2.35"/><circle cx="473.18" cy="374.1" r="2.35"/><circle cx="480.11" cy="379.4" r="2.35"/><circle cx="487.04" cy="383" r="2.35"/><circle cx="493.97" cy="386.5" r="2.35"/><circle cx="500.91" cy="389" r="2.35"/><circle cx="507.84" cy="391.1" r="2.35"/><circle cx="514.77" cy="392.8" r="2.35"/><circle cx="521.71" cy="393.9" r="2.35"/><circle cx="528.64" cy="394.7" r="2.35"/><circle cx="535.57" cy="395.4" r="2.35"/><circle cx="542.5" cy="395.8" r="2.35"/><circle cx="549.44" cy="395.86" r="2.35"/><circle cx="556.37" cy="395.91" r="2.35"/><circle cx="563.3" cy="395.97" r="2.35"/><circle cx="570.24" cy="396.02" r="2.35"/><circle cx="577.17" cy="396.08" r="2.35"/><circle cx="584.1" cy="396.13" r="2.35"/><circle cx="591.03" cy="396.19" r="2.35"/><circle cx="597.97" cy="396.24" r="2.35"/><circle cx="604.9" cy="396.3" r="2.35"/></g>
</g>
<clipPath id="clipb"><rect x="775" y="12" width="488.3" height="389.4"/></clipPath>
<g clip-path="url(#clipb)">
<polyline points="781,345 787.89,314 794.78,277.7 801.67,296 808.56,296 815.45,304.4 822.34,238 829.23,251 836.12,256.6 843.01,226.7 849.9,221.8 856.79,229.1 863.68,238 870.57,240.4 877.46,259.1 884.35,260.7 891.24,257.4 898.13,256.6 905.02,257.4 911.91,255.8 918.8,241.3 925.69,231.5 932.58,213.8 939.47,201.8 946.36,189.6 953.25,169.4 960.14,154.3 967.03,139.1 973.92,121.9 980.81,107.7 987.7,97.6 994.59,88.5 1001.48,82.5 1008.37,75.4 1015.26,70.3 1022.15,66.3 1029.04,63.9 1035.93,62.2 1042.82,61.2 1049.71,60.6 1056.6,61.2 1063.49,60.6 1070.38,63.5 1077.27,67.1 1084.16,72.2 1091.05,78.2 1097.94,86.3 1104.83,95.6 1111.72,106.3 1118.61,119.3 1125.5,133 1132.39,149.3 1139.28,165.5 1146.17,181.8 1153.06,198.1 1159.95,213.2 1166.84,228.3 1173.73,241.1 1180.62,251.6 1187.51,260.9 1194.4,267.9 1201.29,274.8 1208.18,280.7 1215.07,284.6 1221.96,287.6 1228.85,290 1235.74,291.8 1242.63,293.5 1249.52,294.6 1256.41,295.8 1263.3,296.9" fill="none" stroke="#4a4a4a" stroke-width="1.4" stroke-linejoin="round"/>
<path d="M779.15 343.15h3.7v3.7h-3.7zM786.04 312.15h3.7v3.7h-3.7zM792.93 275.85h3.7v3.7h-3.7zM799.82 294.15h3.7v3.7h-3.7zM806.71 294.15h3.7v3.7h-3.7zM813.6 302.55h3.7v3.7h-3.7zM820.49 236.15h3.7v3.7h-3.7zM827.38 249.15h3.7v3.7h-3.7zM834.27 254.75h3.7v3.7h-3.7zM841.16 224.85h3.7v3.7h-3.7zM848.05 219.95h3.7v3.7h-3.7zM854.94 227.25h3.7v3.7h-3.7zM861.83 236.15h3.7v3.7h-3.7zM868.72 238.55h3.7v3.7h-3.7zM875.61 257.25h3.7v3.7h-3.7zM882.5 258.85h3.7v3.7h-3.7zM889.39 255.55h3.7v3.7h-3.7zM896.28 254.75h3.7v3.7h-3.7zM903.17 255.55h3.7v3.7h-3.7zM910.06 253.95h3.7v3.7h-3.7zM916.95 239.45h3.7v3.7h-3.7zM923.84 229.65h3.7v3.7h-3.7zM930.73 211.95h3.7v3.7h-3.7zM937.62 199.95h3.7v3.7h-3.7zM944.51 187.75h3.7v3.7h-3.7zM951.4 167.55h3.7v3.7h-3.7zM958.29 152.45h3.7v3.7h-3.7zM965.18 137.25h3.7v3.7h-3.7zM972.07 120.05h3.7v3.7h-3.7zM978.96 105.85h3.7v3.7h-3.7zM985.85 95.75h3.7v3.7h-3.7zM992.74 86.65h3.7v3.7h-3.7zM999.63 80.65h3.7v3.7h-3.7zM1006.52 73.55h3.7v3.7h-3.7zM1013.41 68.45h3.7v3.7h-3.7zM1020.3 64.45h3.7v3.7h-3.7zM1027.19 62.05h3.7v3.7h-3.7zM1034.08 60.35h3.7v3.7h-3.7zM1040.97 59.35h3.7v3.7h-3.7zM1047.86 58.75h3.7v3.7h-3.7zM1054.75 59.35h3.7v3.7h-3.7zM1061.64 58.75h3.7v3.7h-3.7zM1068.53 61.65h3.7v3.7h-3.7zM1075.42 65.25h3.7v3.7h-3.7zM1082.31 70.35h3.7v3.7h-3.7zM1089.2 76.35h3.7v3.7h-3.7zM1096.09 84.45h3.7v3.7h-3.7zM1102.98 93.75h3.7v3.7h-3.7zM1109.87 104.45h3.7v3.7h-3.7zM1116.76 117.45h3.7v3.7h-3.7zM1123.65 131.15h3.7v3.7h-3.7zM1130.54 147.45h3.7v3.7h-3.7zM1137.43 163.65h3.7v3.7h-3.7zM1144.32 179.95h3.7v3.7h-3.7zM1151.21 196.25h3.7v3.7h-3.7zM1158.1 211.35h3.7v3.7h-3.7zM1164.99 226.45h3.7v3.7h-3.7zM1171.88 239.25h3.7v3.7h-3.7zM1178.77 249.75h3.7v3.7h-3.7zM1185.66 259.05h3.7v3.7h-3.7zM1192.55 266.05h3.7v3.7h-3.7zM1199.44 272.95h3.7v3.7h-3.7zM1206.33 278.85h3.7v3.7h-3.7zM1213.22 282.75h3.7v3.7h-3.7zM1220.11 285.75h3.7v3.7h-3.7zM1227 288.15h3.7v3.7h-3.7zM1233.89 289.95h3.7v3.7h-3.7zM1240.78 291.65h3.7v3.7h-3.7zM1247.67 292.75h3.7v3.7h-3.7zM1254.56 293.95h3.7v3.7h-3.7zM1261.45 295.05h3.7v3.7h-3.7z" fill="#fff" stroke="#a8a8a8" stroke-width="1.2"/>
<polyline points="781,303.5 787.89,302 794.78,272.8 801.67,263.1 808.56,256.6 815.45,257.4 822.34,268 829.23,268 836.12,270.4 843.01,274.7 849.9,255.8 856.79,265.5 863.68,260.7 870.57,267.1 877.46,262.3 884.35,256.6 891.24,257.4 898.13,247.7 905.02,238.8 911.91,226.7 918.8,222.7 925.69,200.7 932.58,179.5 939.47,161.3 946.36,141.1 953.25,125.9 960.14,111.8 967.03,99.7 973.92,89.5 980.81,82.5 987.7,76.4 994.59,71.3 1001.48,67.3 1008.37,64.3 1015.26,61.8 1022.15,60.2 1029.04,59.2 1035.93,58.6 1042.82,58.6 1049.71,59.2 1056.6,60.2 1063.49,61.8 1070.38,64.7 1077.27,68.3 1084.16,73.4 1091.05,79.4 1097.94,87.5 1104.83,96.8 1111.72,107.5 1118.61,120.5 1125.5,134.2 1132.39,150.5 1139.28,166.7 1146.17,183 1153.06,199.3 1159.95,214.4 1166.84,229.5 1173.73,242.3 1180.62,252.8 1187.51,262.1 1194.4,269.1 1201.29,276 1208.18,281.9 1215.07,285.8 1221.96,288.8 1228.85,291.2 1235.74,293 1242.63,294.7 1249.52,295.8 1256.41,297 1263.3,298.1" fill="none" stroke="#e23a3a" stroke-width="1.6" stroke-linejoin="round"/>
<path d="M779.15 301.65h3.7v3.7h-3.7zM786.04 300.15h3.7v3.7h-3.7zM792.93 270.95h3.7v3.7h-3.7zM799.82 261.25h3.7v3.7h-3.7zM806.71 254.75h3.7v3.7h-3.7zM813.6 255.55h3.7v3.7h-3.7zM820.49 266.15h3.7v3.7h-3.7zM827.38 266.15h3.7v3.7h-3.7zM834.27 268.55h3.7v3.7h-3.7zM841.16 272.85h3.7v3.7h-3.7zM848.05 253.95h3.7v3.7h-3.7zM854.94 263.65h3.7v3.7h-3.7zM861.83 258.85h3.7v3.7h-3.7zM868.72 265.25h3.7v3.7h-3.7zM875.61 260.45h3.7v3.7h-3.7zM882.5 254.75h3.7v3.7h-3.7zM889.39 255.55h3.7v3.7h-3.7zM896.28 245.85h3.7v3.7h-3.7zM903.17 236.95h3.7v3.7h-3.7zM910.06 224.85h3.7v3.7h-3.7zM916.95 220.85h3.7v3.7h-3.7zM923.84 198.85h3.7v3.7h-3.7zM930.73 177.65h3.7v3.7h-3.7zM937.62 159.45h3.7v3.7h-3.7zM944.51 139.25h3.7v3.7h-3.7zM951.4 124.05h3.7v3.7h-3.7zM958.29 109.95h3.7v3.7h-3.7zM965.18 97.85h3.7v3.7h-3.7zM972.07 87.65h3.7v3.7h-3.7zM978.96 80.65h3.7v3.7h-3.7zM985.85 74.55h3.7v3.7h-3.7zM992.74 69.45h3.7v3.7h-3.7zM999.63 65.45h3.7v3.7h-3.7zM1006.52 62.45h3.7v3.7h-3.7zM1013.41 59.95h3.7v3.7h-3.7zM1020.3 58.35h3.7v3.7h-3.7zM1027.19 57.35h3.7v3.7h-3.7zM1034.08 56.75h3.7v3.7h-3.7zM1040.97 56.75h3.7v3.7h-3.7zM1047.86 57.35h3.7v3.7h-3.7zM1054.75 58.35h3.7v3.7h-3.7zM1061.64 59.95h3.7v3.7h-3.7zM1068.53 62.85h3.7v3.7h-3.7zM1075.42 66.45h3.7v3.7h-3.7zM1082.31 71.55h3.7v3.7h-3.7zM1089.2 77.55h3.7v3.7h-3.7zM1096.09 85.65h3.7v3.7h-3.7zM1102.98 94.95h3.7v3.7h-3.7zM1109.87 105.65h3.7v3.7h-3.7zM1116.76 118.65h3.7v3.7h-3.7zM1123.65 132.35h3.7v3.7h-3.7zM1130.54 148.65h3.7v3.7h-3.7zM1137.43 164.85h3.7v3.7h-3.7zM1144.32 181.15h3.7v3.7h-3.7zM1151.21 197.45h3.7v3.7h-3.7zM1158.1 212.55h3.7v3.7h-3.7zM1164.99 227.65h3.7v3.7h-3.7zM1171.88 240.45h3.7v3.7h-3.7zM1178.77 250.95h3.7v3.7h-3.7zM1185.66 260.25h3.7v3.7h-3.7zM1192.55 267.25h3.7v3.7h-3.7zM1199.44 274.15h3.7v3.7h-3.7zM1206.33 280.05h3.7v3.7h-3.7zM1213.22 283.95h3.7v3.7h-3.7zM1220.11 286.95h3.7v3.7h-3.7zM1227 289.35h3.7v3.7h-3.7zM1233.89 291.15h3.7v3.7h-3.7zM1240.78 292.85h3.7v3.7h-3.7zM1247.67 293.95h3.7v3.7h-3.7zM1254.56 295.15h3.7v3.7h-3.7zM1261.45 296.25h3.7v3.7h-3.7z" fill="#fff" stroke="#f29a9a" stroke-width="1.2"/>
<polyline points="781,211.3 787.89,223.5 794.78,229.1 801.67,238 808.56,247.2 815.45,253.4 822.34,256.6 829.23,259.9 836.12,264.7 843.01,266.3 849.9,268 856.79,269.9 863.68,272.5 870.57,271.2 877.46,270.9 884.35,269.6 891.24,266.3 898.13,260.7 905.02,253.4 911.91,241.3 918.8,226.7 925.69,211.2 932.58,191.7 939.47,171.4 946.36,152.2 953.25,135 960.14,119.9 967.03,106.7 973.92,94.6 980.81,85.5 987.7,79.4 994.59,74.4 1001.48,70.7 1008.37,69.3 1015.26,68.3 1022.15,67.9 1029.04,68.3 1035.93,68.7 1042.82,69.3 1049.71,69.9 1056.6,70.7 1063.49,72.4 1070.38,74.4 1077.27,77.4 1084.16,81.5 1091.05,86.9 1097.94,93.6 1104.83,102.7 1111.72,113.5 1118.61,126.5 1125.5,140 1132.39,156.3 1139.28,171.4 1146.17,186.5 1153.06,202.8 1159.95,217.9 1166.84,230.7 1173.73,242.3 1180.62,254 1187.51,262.1 1194.4,269.1 1201.29,276 1208.18,281.2 1215.07,285.3 1221.96,288.8 1228.85,291.2 1235.74,293 1242.63,294.7 1249.52,295.8 1256.41,297 1263.3,298.1" fill="none" stroke="#3b7be6" stroke-width="1.6" stroke-linejoin="round"/>
<path d="M779.15 209.45h3.7v3.7h-3.7zM786.04 221.65h3.7v3.7h-3.7zM792.93 227.25h3.7v3.7h-3.7zM799.82 236.15h3.7v3.7h-3.7zM806.71 245.35h3.7v3.7h-3.7zM813.6 251.55h3.7v3.7h-3.7zM820.49 254.75h3.7v3.7h-3.7zM827.38 258.05h3.7v3.7h-3.7zM834.27 262.85h3.7v3.7h-3.7zM841.16 264.45h3.7v3.7h-3.7zM848.05 266.15h3.7v3.7h-3.7zM854.94 268.05h3.7v3.7h-3.7zM861.83 270.65h3.7v3.7h-3.7zM868.72 269.35h3.7v3.7h-3.7zM875.61 269.05h3.7v3.7h-3.7zM882.5 267.75h3.7v3.7h-3.7zM889.39 264.45h3.7v3.7h-3.7zM896.28 258.85h3.7v3.7h-3.7zM903.17 251.55h3.7v3.7h-3.7zM910.06 239.45h3.7v3.7h-3.7zM916.95 224.85h3.7v3.7h-3.7zM923.84 209.35h3.7v3.7h-3.7zM930.73 189.85h3.7v3.7h-3.7zM937.62 169.55h3.7v3.7h-3.7zM944.51 150.35h3.7v3.7h-3.7zM951.4 133.15h3.7v3.7h-3.7zM958.29 118.05h3.7v3.7h-3.7zM965.18 104.85h3.7v3.7h-3.7zM972.07 92.75h3.7v3.7h-3.7zM978.96 83.65h3.7v3.7h-3.7zM985.85 77.55h3.7v3.7h-3.7zM992.74 72.55h3.7v3.7h-3.7zM999.63 68.85h3.7v3.7h-3.7zM1006.52 67.45h3.7v3.7h-3.7zM1013.41 66.45h3.7v3.7h-3.7zM1020.3 66.05h3.7v3.7h-3.7zM1027.19 66.45h3.7v3.7h-3.7zM1034.08 66.85h3.7v3.7h-3.7zM1040.97 67.45h3.7v3.7h-3.7zM1047.86 68.05h3.7v3.7h-3.7zM1054.75 68.85h3.7v3.7h-3.7zM1061.64 70.55h3.7v3.7h-3.7zM1068.53 72.55h3.7v3.7h-3.7zM1075.42 75.55h3.7v3.7h-3.7zM1082.31 79.65h3.7v3.7h-3.7zM1089.2 85.05h3.7v3.7h-3.7zM1096.09 91.75h3.7v3.7h-3.7zM1102.98 100.85h3.7v3.7h-3.7zM1109.87 111.65h3.7v3.7h-3.7zM1116.76 124.65h3.7v3.7h-3.7zM1123.65 138.15h3.7v3.7h-3.7zM1130.54 154.45h3.7v3.7h-3.7zM1137.43 169.55h3.7v3.7h-3.7zM1144.32 184.65h3.7v3.7h-3.7zM1151.21 200.95h3.7v3.7h-3.7zM1158.1 216.05h3.7v3.7h-3.7zM1164.99 228.85h3.7v3.7h-3.7zM1171.88 240.45h3.7v3.7h-3.7zM1178.77 252.15h3.7v3.7h-3.7zM1185.66 260.25h3.7v3.7h-3.7zM1192.55 267.25h3.7v3.7h-3.7zM1199.44 274.15h3.7v3.7h-3.7zM1206.33 279.35h3.7v3.7h-3.7zM1213.22 283.45h3.7v3.7h-3.7zM1220.11 286.95h3.7v3.7h-3.7zM1227 289.35h3.7v3.7h-3.7zM1233.89 291.15h3.7v3.7h-3.7zM1240.78 292.85h3.7v3.7h-3.7zM1247.67 293.95h3.7v3.7h-3.7zM1254.56 295.15h3.7v3.7h-3.7zM1261.45 296.25h3.7v3.7h-3.7z" fill="#fff" stroke="#8ab8f8" stroke-width="1.2"/>
<polyline points="781,124 787.89,117.5 794.78,119.1 801.67,130.4 808.56,128.8 815.45,133.7 822.34,126.4 829.23,133.4 836.12,144.2 843.01,140.2 849.9,140.2 856.79,145.8 863.68,148.6 870.57,149.9 877.46,153.4 884.35,152.3 891.24,153.9 898.13,152.3 905.02,156 911.91,156 918.8,156.2 925.69,156.6 932.58,158.5 939.47,161.3 946.36,165 953.25,167.4 960.14,172.5 967.03,178.5 973.92,185.6 980.81,193.7 987.7,201.8 994.59,209.9 1001.48,218 1008.37,226 1015.26,234.1 1022.15,239.6 1029.04,247.5 1035.93,256 1042.82,265.1 1049.71,273 1056.6,281.4 1063.49,289.9 1070.38,298.4 1077.27,307.6 1084.16,316.1 1091.05,324.6 1097.94,333 1104.83,340.9 1111.72,349.4 1118.61,357.23 1125.5,364.75 1132.39,371.27 1139.28,377.1 1146.17,381.52 1153.06,384.66 1159.95,386.76 1166.84,388.46 1173.73,389.56 1180.62,390.56 1187.51,391.26 1194.4,391.66 1201.29,392.06 1208.18,392.08 1215.07,392.1 1221.96,392.13 1228.85,392.15 1235.74,392.17 1242.63,392.19 1249.52,392.22 1256.41,392.24 1263.3,392.26" fill="none" stroke="#1c1c1c" stroke-width="1.2" stroke-linejoin="round"/>
<path d="M778.85 121.85h4.3v4.3h-4.3zM785.74 115.35h4.3v4.3h-4.3zM792.63 116.95h4.3v4.3h-4.3zM799.52 128.25h4.3v4.3h-4.3zM806.41 126.65h4.3v4.3h-4.3zM813.3 131.55h4.3v4.3h-4.3zM820.19 124.25h4.3v4.3h-4.3zM827.08 131.25h4.3v4.3h-4.3zM833.97 142.05h4.3v4.3h-4.3zM840.86 138.05h4.3v4.3h-4.3zM847.75 138.05h4.3v4.3h-4.3zM854.64 143.65h4.3v4.3h-4.3zM861.53 146.45h4.3v4.3h-4.3zM868.42 147.75h4.3v4.3h-4.3zM875.31 151.25h4.3v4.3h-4.3zM882.2 150.15h4.3v4.3h-4.3zM889.09 151.75h4.3v4.3h-4.3zM895.98 150.15h4.3v4.3h-4.3zM902.87 153.85h4.3v4.3h-4.3zM909.76 153.85h4.3v4.3h-4.3zM916.65 154.05h4.3v4.3h-4.3zM923.54 154.45h4.3v4.3h-4.3zM930.43 156.35h4.3v4.3h-4.3zM937.32 159.15h4.3v4.3h-4.3zM944.21 162.85h4.3v4.3h-4.3zM951.1 165.25h4.3v4.3h-4.3zM957.99 170.35h4.3v4.3h-4.3zM964.88 176.35h4.3v4.3h-4.3zM971.77 183.45h4.3v4.3h-4.3zM978.66 191.55h4.3v4.3h-4.3zM985.55 199.65h4.3v4.3h-4.3zM992.44 207.75h4.3v4.3h-4.3zM999.33 215.85h4.3v4.3h-4.3zM1006.22 223.85h4.3v4.3h-4.3zM1013.11 231.95h4.3v4.3h-4.3zM1020 237.45h4.3v4.3h-4.3zM1026.89 245.35h4.3v4.3h-4.3zM1033.78 253.85h4.3v4.3h-4.3zM1040.67 262.95h4.3v4.3h-4.3zM1047.56 270.85h4.3v4.3h-4.3zM1054.45 279.25h4.3v4.3h-4.3zM1061.34 287.75h4.3v4.3h-4.3zM1068.23 296.25h4.3v4.3h-4.3zM1075.12 305.45h4.3v4.3h-4.3zM1082.01 313.95h4.3v4.3h-4.3zM1088.9 322.45h4.3v4.3h-4.3zM1095.79 330.85h4.3v4.3h-4.3zM1102.68 338.75h4.3v4.3h-4.3zM1109.57 347.25h4.3v4.3h-4.3zM1116.46 355.08h4.3v4.3h-4.3zM1123.35 362.6h4.3v4.3h-4.3zM1130.24 369.12h4.3v4.3h-4.3zM1137.13 374.95h4.3v4.3h-4.3zM1144.02 379.38h4.3v4.3h-4.3zM1150.91 382.51h4.3v4.3h-4.3zM1157.8 384.61h4.3v4.3h-4.3zM1164.69 386.31h4.3v4.3h-4.3zM1171.58 387.41h4.3v4.3h-4.3zM1178.47 388.41h4.3v4.3h-4.3zM1185.36 389.11h4.3v4.3h-4.3zM1192.25 389.51h4.3v4.3h-4.3zM1199.14 389.91h4.3v4.3h-4.3zM1206.03 389.93h4.3v4.3h-4.3zM1212.92 389.95h4.3v4.3h-4.3zM1219.81 389.98h4.3v4.3h-4.3zM1226.7 390h4.3v4.3h-4.3zM1233.59 390.02h4.3v4.3h-4.3zM1240.48 390.04h4.3v4.3h-4.3zM1247.37 390.07h4.3v4.3h-4.3zM1254.26 390.09h4.3v4.3h-4.3zM1261.15 390.11h4.3v4.3h-4.3z" fill="#1e2626"/>
<polyline points="781,122.4 787.89,116.7 794.78,122.4 801.67,121.5 808.56,121.1 815.45,126.4 822.34,127.2 829.23,128 836.12,129.2 843.01,130.8 849.9,128 856.79,132.4 863.68,132.4 870.57,133.4 877.46,133.4 884.35,134.5 891.24,135 898.13,136.1 905.02,136.9 911.91,138.2 918.8,140.2 925.69,142.6 932.58,146.5 939.47,150.2 946.36,157.3 953.25,162.3 960.14,169.4 967.03,176.5 973.92,184.6 980.81,192.7 987.7,200.8 994.59,208.9 1001.48,217 1008.37,225 1015.26,233.4 1022.15,241.4 1029.04,249.3 1035.93,257.8 1042.82,266.9 1049.71,274.8 1056.6,283.2 1063.49,291.7 1070.38,300.2 1077.27,309.4 1084.16,317.9 1091.05,326.4 1097.94,334.8 1104.83,342.7 1111.72,351.2 1118.61,358.8 1125.5,366.1 1132.39,372.4 1139.28,378 1146.17,382.2 1153.06,385.2 1159.95,387.3 1166.84,389 1173.73,390.1 1180.62,391.1 1187.51,391.8 1194.4,392.2 1201.29,392.6 1208.18,392.62 1215.07,392.64 1221.96,392.67 1228.85,392.69 1235.74,392.71 1242.63,392.73 1249.52,392.76 1256.41,392.78 1263.3,392.8" fill="none" stroke="#ff2020" stroke-width="1.2" stroke-linejoin="round"/>
<g fill="#ff2222"><circle cx="781" cy="122.4" r="2.35"/><circle cx="787.89" cy="116.7" r="2.35"/><circle cx="794.78" cy="122.4" r="2.35"/><circle cx="801.67" cy="121.5" r="2.35"/><circle cx="808.56" cy="121.1" r="2.35"/><circle cx="815.45" cy="126.4" r="2.35"/><circle cx="822.34" cy="127.2" r="2.35"/><circle cx="829.23" cy="128" r="2.35"/><circle cx="836.12" cy="129.2" r="2.35"/><circle cx="843.01" cy="130.8" r="2.35"/><circle cx="849.9" cy="128" r="2.35"/><circle cx="856.79" cy="132.4" r="2.35"/><circle cx="863.68" cy="132.4" r="2.35"/><circle cx="870.57" cy="133.4" r="2.35"/><circle cx="877.46" cy="133.4" r="2.35"/><circle cx="884.35" cy="134.5" r="2.35"/><circle cx="891.24" cy="135" r="2.35"/><circle cx="898.13" cy="136.1" r="2.35"/><circle cx="905.02" cy="136.9" r="2.35"/><circle cx="911.91" cy="138.2" r="2.35"/><circle cx="918.8" cy="140.2" r="2.35"/><circle cx="925.69" cy="142.6" r="2.35"/><circle cx="932.58" cy="146.5" r="2.35"/><circle cx="939.47" cy="150.2" r="2.35"/><circle cx="946.36" cy="157.3" r="2.35"/><circle cx="953.25" cy="162.3" r="2.35"/><circle cx="960.14" cy="169.4" r="2.35"/><circle cx="967.03" cy="176.5" r="2.35"/><circle cx="973.92" cy="184.6" r="2.35"/><circle cx="980.81" cy="192.7" r="2.35"/><circle cx="987.7" cy="200.8" r="2.35"/><circle cx="994.59" cy="208.9" r="2.35"/><circle cx="1001.48" cy="217" r="2.35"/><circle cx="1008.37" cy="225" r="2.35"/><circle cx="1015.26" cy="233.4" r="2.35"/><circle cx="1022.15" cy="241.4" r="2.35"/><circle cx="1029.04" cy="249.3" r="2.35"/><circle cx="1035.93" cy="257.8" r="2.35"/><circle cx="1042.82" cy="266.9" r="2.35"/><circle cx="1049.71" cy="274.8" r="2.35"/><circle cx="1056.6" cy="283.2" r="2.35"/><circle cx="1063.49" cy="291.7" r="2.35"/><circle cx="1070.38" cy="300.2" r="2.35"/><circle cx="1077.27" cy="309.4" r="2.35"/><circle cx="1084.16" cy="317.9" r="2.35"/><circle cx="1091.05" cy="326.4" r="2.35"/><circle cx="1097.94" cy="334.8" r="2.35"/><circle cx="1104.83" cy="342.7" r="2.35"/><circle cx="1111.72" cy="351.2" r="2.35"/><circle cx="1118.61" cy="358.8" r="2.35"/><circle cx="1125.5" cy="366.1" r="2.35"/><circle cx="1132.39" cy="372.4" r="2.35"/><circle cx="1139.28" cy="378" r="2.35"/><circle cx="1146.17" cy="382.2" r="2.35"/><circle cx="1153.06" cy="385.2" r="2.35"/><circle cx="1159.95" cy="387.3" r="2.35"/><circle cx="1166.84" cy="389" r="2.35"/><circle cx="1173.73" cy="390.1" r="2.35"/><circle cx="1180.62" cy="391.1" r="2.35"/><circle cx="1187.51" cy="391.8" r="2.35"/><circle cx="1194.4" cy="392.2" r="2.35"/><circle cx="1201.29" cy="392.6" r="2.35"/><circle cx="1208.18" cy="392.62" r="2.35"/><circle cx="1215.07" cy="392.64" r="2.35"/><circle cx="1221.96" cy="392.67" r="2.35"/><circle cx="1228.85" cy="392.69" r="2.35"/><circle cx="1235.74" cy="392.71" r="2.35"/><circle cx="1242.63" cy="392.73" r="2.35"/><circle cx="1249.52" cy="392.76" r="2.35"/><circle cx="1256.41" cy="392.78" r="2.35"/><circle cx="1263.3" cy="392.8" r="2.35"/></g>
<polyline points="781,126.4 787.89,130.1 794.78,132.1 801.67,134.5 808.56,136.1 815.45,137.7 822.34,138.2 829.23,139.3 836.12,141 843.01,140.5 849.9,142.1 856.79,143.1 863.68,143.9 870.57,144.2 877.46,144.7 884.35,145 891.24,145.3 898.13,145.8 905.02,145.8 911.91,146.3 918.8,147.4 925.69,149.5 932.58,152.2 939.47,156.3 946.36,160.9 953.25,166.4 960.14,176.5 967.03,183.6 973.92,191.6 980.81,199.7 987.7,207.8 994.59,215.9 1001.48,224.2 1008.37,232.5 1015.26,240.4 1022.15,247.9 1029.04,255.6 1035.93,263 1042.82,271.1 1049.71,278.6 1056.6,287.1 1063.49,294.5 1070.38,303 1077.27,310.9 1084.16,318.9 1091.05,327 1097.94,334.8 1104.83,342.7 1111.72,350.3 1118.61,357.6 1125.5,363.9 1132.39,369.9 1139.28,374.6 1146.17,378.8 1153.06,382.2 1159.95,384.8 1166.84,386.9 1173.73,388.4 1180.62,389.6 1187.51,390.5 1194.4,391.1 1201.29,391.8 1208.18,391.82 1215.07,391.84 1221.96,391.87 1228.85,391.89 1235.74,391.91 1242.63,391.93 1249.52,391.96 1256.41,391.98 1263.3,392" fill="none" stroke="#4a3cff" stroke-width="1.2" stroke-linejoin="round"/>
<g fill="#2f55ff"><circle cx="781" cy="126.4" r="2.35"/><circle cx="787.89" cy="130.1" r="2.35"/><circle cx="794.78" cy="132.1" r="2.35"/><circle cx="801.67" cy="134.5" r="2.35"/><circle cx="808.56" cy="136.1" r="2.35"/><circle cx="815.45" cy="137.7" r="2.35"/><circle cx="822.34" cy="138.2" r="2.35"/><circle cx="829.23" cy="139.3" r="2.35"/><circle cx="836.12" cy="141" r="2.35"/><circle cx="843.01" cy="140.5" r="2.35"/><circle cx="849.9" cy="142.1" r="2.35"/><circle cx="856.79" cy="143.1" r="2.35"/><circle cx="863.68" cy="143.9" r="2.35"/><circle cx="870.57" cy="144.2" r="2.35"/><circle cx="877.46" cy="144.7" r="2.35"/><circle cx="884.35" cy="145" r="2.35"/><circle cx="891.24" cy="145.3" r="2.35"/><circle cx="898.13" cy="145.8" r="2.35"/><circle cx="905.02" cy="145.8" r="2.35"/><circle cx="911.91" cy="146.3" r="2.35"/><circle cx="918.8" cy="147.4" r="2.35"/><circle cx="925.69" cy="149.5" r="2.35"/><circle cx="932.58" cy="152.2" r="2.35"/><circle cx="939.47" cy="156.3" r="2.35"/><circle cx="946.36" cy="160.9" r="2.35"/><circle cx="953.25" cy="166.4" r="2.35"/><circle cx="960.14" cy="176.5" r="2.35"/><circle cx="967.03" cy="183.6" r="2.35"/><circle cx="973.92" cy="191.6" r="2.35"/><circle cx="980.81" cy="199.7" r="2.35"/><circle cx="987.7" cy="207.8" r="2.35"/><circle cx="994.59" cy="215.9" r="2.35"/><circle cx="1001.48" cy="224.2" r="2.35"/><circle cx="1008.37" cy="232.5" r="2.35"/><circle cx="1015.26" cy="240.4" r="2.35"/><circle cx="1022.15" cy="247.9" r="2.35"/><circle cx="1029.04" cy="255.6" r="2.35"/><circle cx="1035.93" cy="263" r="2.35"/><circle cx="1042.82" cy="271.1" r="2.35"/><circle cx="1049.71" cy="278.6" r="2.35"/><circle cx="1056.6" cy="287.1" r="2.35"/><circle cx="1063.49" cy="294.5" r="2.35"/><circle cx="1070.38" cy="303" r="2.35"/><circle cx="1077.27" cy="310.9" r="2.35"/><circle cx="1084.16" cy="318.9" r="2.35"/><circle cx="1091.05" cy="327" r="2.35"/><circle cx="1097.94" cy="334.8" r="2.35"/><circle cx="1104.83" cy="342.7" r="2.35"/><circle cx="1111.72" cy="350.3" r="2.35"/><circle cx="1118.61" cy="357.6" r="2.35"/><circle cx="1125.5" cy="363.9" r="2.35"/><circle cx="1132.39" cy="369.9" r="2.35"/><circle cx="1139.28" cy="374.6" r="2.35"/><circle cx="1146.17" cy="378.8" r="2.35"/><circle cx="1153.06" cy="382.2" r="2.35"/><circle cx="1159.95" cy="384.8" r="2.35"/><circle cx="1166.84" cy="386.9" r="2.35"/><circle cx="1173.73" cy="388.4" r="2.35"/><circle cx="1180.62" cy="389.6" r="2.35"/><circle cx="1187.51" cy="390.5" r="2.35"/><circle cx="1194.4" cy="391.1" r="2.35"/><circle cx="1201.29" cy="391.8" r="2.35"/><circle cx="1208.18" cy="391.82" r="2.35"/><circle cx="1215.07" cy="391.84" r="2.35"/><circle cx="1221.96" cy="391.87" r="2.35"/><circle cx="1228.85" cy="391.89" r="2.35"/><circle cx="1235.74" cy="391.91" r="2.35"/><circle cx="1242.63" cy="391.93" r="2.35"/><circle cx="1249.52" cy="391.96" r="2.35"/><circle cx="1256.41" cy="391.98" r="2.35"/><circle cx="1263.3" cy="392" r="2.35"/></g>
</g>
<clipPath id="clipc"><rect x="1437.2" y="12.1" width="489.4" height="389.9"/></clipPath>
<g clip-path="url(#clipc)">
<polyline points="1443.2,367.7 1450.11,381.5 1457.01,352.4 1463.92,366.5 1470.82,325.3 1477.73,286.3 1484.63,284.7 1491.54,372.6 1498.45,370.6 1505.35,382.3 1512.26,338.6 1519.16,271.8 1526.07,257.2 1532.97,301.7 1539.88,279.1 1546.79,266.9 1553.69,254.8 1560.6,264.5 1567.5,256.4 1574.41,244.3 1581.31,234.6 1588.22,225 1595.13,203.9 1602.03,182.7 1608.94,159.4 1615.84,137.2 1622.75,122 1629.65,104.8 1636.56,90.7 1643.47,80.6 1650.37,72.5 1657.28,65.4 1664.18,60.3 1671.09,55.9 1677.99,52.2 1684.9,50.2 1691.81,49.2 1698.71,48.6 1705.62,48.6 1712.52,49 1719.43,51 1726.33,53.1 1733.24,57.7 1740.15,64.2 1747.05,70.6 1753.96,77.9 1760.86,87.2 1767.77,98.2 1774.67,108.7 1781.58,122.3 1788.49,136.5 1795.39,151.6 1802.3,169 1809.2,186.5 1816.11,203.9 1823.01,219 1829.92,231.8 1836.83,243.5 1843.73,253.9 1850.64,263.2 1857.54,271.4 1864.45,277.2 1871.35,281.8 1878.26,286 1885.17,288.8 1892.07,291.1 1898.98,293.5 1905.88,295.1 1912.79,296.5 1919.69,297.6 1926.6,298.8" fill="none" stroke="#4a4a4a" stroke-width="1.4" stroke-linejoin="round"/>
<path d="M1441.35 365.85h3.7v3.7h-3.7zM1448.26 379.65h3.7v3.7h-3.7zM1455.16 350.55h3.7v3.7h-3.7zM1462.07 364.65h3.7v3.7h-3.7zM1468.97 323.45h3.7v3.7h-3.7zM1475.88 284.45h3.7v3.7h-3.7zM1482.78 282.85h3.7v3.7h-3.7zM1489.69 370.75h3.7v3.7h-3.7zM1496.6 368.75h3.7v3.7h-3.7zM1503.5 380.45h3.7v3.7h-3.7zM1510.41 336.75h3.7v3.7h-3.7zM1517.31 269.95h3.7v3.7h-3.7zM1524.22 255.35h3.7v3.7h-3.7zM1531.12 299.85h3.7v3.7h-3.7zM1538.03 277.25h3.7v3.7h-3.7zM1544.94 265.05h3.7v3.7h-3.7zM1551.84 252.95h3.7v3.7h-3.7zM1558.75 262.65h3.7v3.7h-3.7zM1565.65 254.55h3.7v3.7h-3.7zM1572.56 242.45h3.7v3.7h-3.7zM1579.46 232.75h3.7v3.7h-3.7zM1586.37 223.15h3.7v3.7h-3.7zM1593.28 202.05h3.7v3.7h-3.7zM1600.18 180.85h3.7v3.7h-3.7zM1607.09 157.55h3.7v3.7h-3.7zM1613.99 135.35h3.7v3.7h-3.7zM1620.9 120.15h3.7v3.7h-3.7zM1627.8 102.95h3.7v3.7h-3.7zM1634.71 88.85h3.7v3.7h-3.7zM1641.62 78.75h3.7v3.7h-3.7zM1648.52 70.65h3.7v3.7h-3.7zM1655.43 63.55h3.7v3.7h-3.7zM1662.33 58.45h3.7v3.7h-3.7zM1669.24 54.05h3.7v3.7h-3.7zM1676.14 50.35h3.7v3.7h-3.7zM1683.05 48.35h3.7v3.7h-3.7zM1689.96 47.35h3.7v3.7h-3.7zM1696.86 46.75h3.7v3.7h-3.7zM1703.77 46.75h3.7v3.7h-3.7zM1710.67 47.15h3.7v3.7h-3.7zM1717.58 49.15h3.7v3.7h-3.7zM1724.48 51.25h3.7v3.7h-3.7zM1731.39 55.85h3.7v3.7h-3.7zM1738.3 62.35h3.7v3.7h-3.7zM1745.2 68.75h3.7v3.7h-3.7zM1752.11 76.05h3.7v3.7h-3.7zM1759.01 85.35h3.7v3.7h-3.7zM1765.92 96.35h3.7v3.7h-3.7zM1772.82 106.85h3.7v3.7h-3.7zM1779.73 120.45h3.7v3.7h-3.7zM1786.64 134.65h3.7v3.7h-3.7zM1793.54 149.75h3.7v3.7h-3.7zM1800.45 167.15h3.7v3.7h-3.7zM1807.35 184.65h3.7v3.7h-3.7zM1814.26 202.05h3.7v3.7h-3.7zM1821.16 217.15h3.7v3.7h-3.7zM1828.07 229.95h3.7v3.7h-3.7zM1834.98 241.65h3.7v3.7h-3.7zM1841.88 252.05h3.7v3.7h-3.7zM1848.79 261.35h3.7v3.7h-3.7zM1855.69 269.55h3.7v3.7h-3.7zM1862.6 275.35h3.7v3.7h-3.7zM1869.5 279.95h3.7v3.7h-3.7zM1876.41 284.15h3.7v3.7h-3.7zM1883.32 286.95h3.7v3.7h-3.7zM1890.22 289.25h3.7v3.7h-3.7zM1897.13 291.65h3.7v3.7h-3.7zM1904.03 293.25h3.7v3.7h-3.7zM1910.94 294.65h3.7v3.7h-3.7zM1917.84 295.75h3.7v3.7h-3.7zM1924.75 296.95h3.7v3.7h-3.7z" fill="#fff" stroke="#a8a8a8" stroke-width="1.2"/>
<polyline points="1443.2,310.6 1450.11,339.8 1457.01,292.8 1463.92,272.6 1470.82,275.8 1477.73,275 1484.63,263.7 1491.54,265.3 1498.45,299.3 1505.35,258 1512.26,266.1 1519.16,259.6 1526.07,262.1 1532.97,263.7 1539.88,259.6 1546.79,258 1553.69,249.9 1560.6,236.2 1567.5,226.5 1574.41,213.8 1581.31,194.4 1588.22,174.3 1595.13,156.3 1602.03,136.2 1608.94,119 1615.84,102.8 1622.75,91.7 1629.65,81 1636.56,72.5 1643.47,66 1650.37,60.3 1657.28,55.9 1664.18,53.3 1671.09,51.2 1677.99,49.8 1684.9,49.2 1691.81,49.2 1698.71,49.2 1705.62,49.8 1712.52,50.2 1719.43,52.2 1726.33,54.3 1733.24,58.9 1740.15,65.4 1747.05,71.8 1753.96,79.1 1760.86,88.4 1767.77,99.4 1774.67,109.9 1781.58,123.5 1788.49,137.7 1795.39,152.8 1802.3,170.2 1809.2,187.7 1816.11,205.1 1823.01,220.2 1829.92,233 1836.83,244.7 1843.73,255.1 1850.64,264.4 1857.54,272.6 1864.45,278.4 1871.35,283 1878.26,287.2 1885.17,290 1892.07,292.3 1898.98,294.7 1905.88,296.3 1912.79,297.7 1919.69,298.8 1926.6,300" fill="none" stroke="#e23a3a" stroke-width="1.6" stroke-linejoin="round"/>
<path d="M1441.35 308.75h3.7v3.7h-3.7zM1448.26 337.95h3.7v3.7h-3.7zM1455.16 290.95h3.7v3.7h-3.7zM1462.07 270.75h3.7v3.7h-3.7zM1468.97 273.95h3.7v3.7h-3.7zM1475.88 273.15h3.7v3.7h-3.7zM1482.78 261.85h3.7v3.7h-3.7zM1489.69 263.45h3.7v3.7h-3.7zM1496.6 297.45h3.7v3.7h-3.7zM1503.5 256.15h3.7v3.7h-3.7zM1510.41 264.25h3.7v3.7h-3.7zM1517.31 257.75h3.7v3.7h-3.7zM1524.22 260.25h3.7v3.7h-3.7zM1531.12 261.85h3.7v3.7h-3.7zM1538.03 257.75h3.7v3.7h-3.7zM1544.94 256.15h3.7v3.7h-3.7zM1551.84 248.05h3.7v3.7h-3.7zM1558.75 234.35h3.7v3.7h-3.7zM1565.65 224.65h3.7v3.7h-3.7zM1572.56 211.95h3.7v3.7h-3.7zM1579.46 192.55h3.7v3.7h-3.7zM1586.37 172.45h3.7v3.7h-3.7zM1593.28 154.45h3.7v3.7h-3.7zM1600.18 134.35h3.7v3.7h-3.7zM1607.09 117.15h3.7v3.7h-3.7zM1613.99 100.95h3.7v3.7h-3.7zM1620.9 89.85h3.7v3.7h-3.7zM1627.8 79.15h3.7v3.7h-3.7zM1634.71 70.65h3.7v3.7h-3.7zM1641.62 64.15h3.7v3.7h-3.7zM1648.52 58.45h3.7v3.7h-3.7zM1655.43 54.05h3.7v3.7h-3.7zM1662.33 51.45h3.7v3.7h-3.7zM1669.24 49.35h3.7v3.7h-3.7zM1676.14 47.95h3.7v3.7h-3.7zM1683.05 47.35h3.7v3.7h-3.7zM1689.96 47.35h3.7v3.7h-3.7zM1696.86 47.35h3.7v3.7h-3.7zM1703.77 47.95h3.7v3.7h-3.7zM1710.67 48.35h3.7v3.7h-3.7zM1717.58 50.35h3.7v3.7h-3.7zM1724.48 52.45h3.7v3.7h-3.7zM1731.39 57.05h3.7v3.7h-3.7zM1738.3 63.55h3.7v3.7h-3.7zM1745.2 69.95h3.7v3.7h-3.7zM1752.11 77.25h3.7v3.7h-3.7zM1759.01 86.55h3.7v3.7h-3.7zM1765.92 97.55h3.7v3.7h-3.7zM1772.82 108.05h3.7v3.7h-3.7zM1779.73 121.65h3.7v3.7h-3.7zM1786.64 135.85h3.7v3.7h-3.7zM1793.54 150.95h3.7v3.7h-3.7zM1800.45 168.35h3.7v3.7h-3.7zM1807.35 185.85h3.7v3.7h-3.7zM1814.26 203.25h3.7v3.7h-3.7zM1821.16 218.35h3.7v3.7h-3.7zM1828.07 231.15h3.7v3.7h-3.7zM1834.98 242.85h3.7v3.7h-3.7zM1841.88 253.25h3.7v3.7h-3.7zM1848.79 262.55h3.7v3.7h-3.7zM1855.69 270.75h3.7v3.7h-3.7zM1862.6 276.55h3.7v3.7h-3.7zM1869.5 281.15h3.7v3.7h-3.7zM1876.41 285.35h3.7v3.7h-3.7zM1883.32 288.15h3.7v3.7h-3.7zM1890.22 290.45h3.7v3.7h-3.7zM1897.13 292.85h3.7v3.7h-3.7zM1904.03 294.45h3.7v3.7h-3.7zM1910.94 295.85h3.7v3.7h-3.7zM1917.84 296.95h3.7v3.7h-3.7zM1924.75 298.15h3.7v3.7h-3.7z" fill="#fff" stroke="#f29a9a" stroke-width="1.2"/>
<polyline points="1443.2,217.8 1450.11,226.5 1457.01,233.8 1463.92,241 1470.82,247.5 1477.73,253.2 1484.63,257.2 1491.54,260.1 1498.45,262.4 1505.35,264 1512.26,265.6 1519.16,266.9 1526.07,268.2 1532.97,268.5 1539.88,267.7 1546.79,266.1 1553.69,262.9 1560.6,256.4 1567.5,246.7 1574.41,235.4 1581.31,220.4 1588.22,202.9 1595.13,182.7 1602.03,161.4 1608.94,143.2 1615.84,126.7 1622.75,111.9 1629.65,98.8 1636.56,87.6 1643.47,79.5 1650.37,73.5 1657.28,69.4 1664.18,66.4 1671.09,64.8 1677.99,63.4 1684.9,62.4 1691.81,62 1698.71,62 1705.62,62.4 1712.52,63.4 1719.43,64.8 1726.33,66.4 1733.24,69.4 1740.15,74.3 1747.05,80.3 1753.96,86.8 1760.86,96.1 1767.77,107 1774.67,118 1781.58,130.4 1788.49,145.8 1795.39,162.1 1802.3,178.4 1809.2,194.7 1816.11,209.8 1823.01,223.7 1829.92,236.5 1836.83,248.1 1843.73,257.4 1850.64,265.6 1857.54,272.6 1864.45,277.9 1871.35,282.6 1878.26,286.5 1885.17,289.5 1892.07,291.9 1898.98,294.2 1905.88,295.8 1912.79,297.4 1919.69,298.6 1926.6,300" fill="none" stroke="#3b7be6" stroke-width="1.6" stroke-linejoin="round"/>
<g fill="#fff" stroke="#8ab8f8" stroke-width="1.2"><circle cx="1443.2" cy="217.8" r="2.0"/><circle cx="1450.11" cy="226.5" r="2.0"/><circle cx="1457.01" cy="233.8" r="2.0"/><circle cx="1463.92" cy="241" r="2.0"/><circle cx="1470.82" cy="247.5" r="2.0"/><circle cx="1477.73" cy="253.2" r="2.0"/><circle cx="1484.63" cy="257.2" r="2.0"/><circle cx="1491.54" cy="260.1" r="2.0"/><circle cx="1498.45" cy="262.4" r="2.0"/><circle cx="1505.35" cy="264" r="2.0"/><circle cx="1512.26" cy="265.6" r="2.0"/><circle cx="1519.16" cy="266.9" r="2.0"/><circle cx="1526.07" cy="268.2" r="2.0"/><circle cx="1532.97" cy="268.5" r="2.0"/><circle cx="1539.88" cy="267.7" r="2.0"/><circle cx="1546.79" cy="266.1" r="2.0"/><circle cx="1553.69" cy="262.9" r="2.0"/><circle cx="1560.6" cy="256.4" r="2.0"/><circle cx="1567.5" cy="246.7" r="2.0"/><circle cx="1574.41" cy="235.4" r="2.0"/><circle cx="1581.31" cy="220.4" r="2.0"/><circle cx="1588.22" cy="202.9" r="2.0"/><circle cx="1595.13" cy="182.7" r="2.0"/><circle cx="1602.03" cy="161.4" r="2.0"/><circle cx="1608.94" cy="143.2" r="2.0"/><circle cx="1615.84" cy="126.7" r="2.0"/><circle cx="1622.75" cy="111.9" r="2.0"/><circle cx="1629.65" cy="98.8" r="2.0"/><circle cx="1636.56" cy="87.6" r="2.0"/><circle cx="1643.47" cy="79.5" r="2.0"/><circle cx="1650.37" cy="73.5" r="2.0"/><circle cx="1657.28" cy="69.4" r="2.0"/><circle cx="1664.18" cy="66.4" r="2.0"/><circle cx="1671.09" cy="64.8" r="2.0"/><circle cx="1677.99" cy="63.4" r="2.0"/><circle cx="1684.9" cy="62.4" r="2.0"/><circle cx="1691.81" cy="62" r="2.0"/><circle cx="1698.71" cy="62" r="2.0"/><circle cx="1705.62" cy="62.4" r="2.0"/><circle cx="1712.52" cy="63.4" r="2.0"/><circle cx="1719.43" cy="64.8" r="2.0"/><circle cx="1726.33" cy="66.4" r="2.0"/><circle cx="1733.24" cy="69.4" r="2.0"/><circle cx="1740.15" cy="74.3" r="2.0"/><circle cx="1747.05" cy="80.3" r="2.0"/><circle cx="1753.96" cy="86.8" r="2.0"/><circle cx="1760.86" cy="96.1" r="2.0"/><circle cx="1767.77" cy="107" r="2.0"/><circle cx="1774.67" cy="118" r="2.0"/><circle cx="1781.58" cy="130.4" r="2.0"/><circle cx="1788.49" cy="145.8" r="2.0"/><circle cx="1795.39" cy="162.1" r="2.0"/><circle cx="1802.3" cy="178.4" r="2.0"/><circle cx="1809.2" cy="194.7" r="2.0"/><circle cx="1816.11" cy="209.8" r="2.0"/><circle cx="1823.01" cy="223.7" r="2.0"/><circle cx="1829.92" cy="236.5" r="2.0"/><circle cx="1836.83" cy="248.1" r="2.0"/><circle cx="1843.73" cy="257.4" r="2.0"/><circle cx="1850.64" cy="265.6" r="2.0"/><circle cx="1857.54" cy="272.6" r="2.0"/><circle cx="1864.45" cy="277.9" r="2.0"/><circle cx="1871.35" cy="282.6" r="2.0"/><circle cx="1878.26" cy="286.5" r="2.0"/><circle cx="1885.17" cy="289.5" r="2.0"/><circle cx="1892.07" cy="291.9" r="2.0"/><circle cx="1898.98" cy="294.2" r="2.0"/><circle cx="1905.88" cy="295.8" r="2.0"/><circle cx="1912.79" cy="297.4" r="2.0"/><circle cx="1919.69" cy="298.6" r="2.0"/><circle cx="1926.6" cy="300" r="2.0"/></g>
<polyline points="1443.2,144.2 1450.11,143.4 1457.01,139.3 1463.92,143.4 1470.82,108.6 1477.73,116.7 1484.63,114.3 1491.54,141 1498.45,153.1 1505.35,162.8 1512.26,135.3 1519.16,134.5 1526.07,134.5 1532.97,140.2 1539.88,136.1 1546.79,135.3 1553.69,134 1560.6,137.7 1567.5,137.2 1574.41,138.2 1581.31,139.8 1588.22,142.4 1595.13,144.2 1602.03,147.3 1608.94,151.3 1615.84,156.4 1622.75,162.5 1629.65,170.5 1636.56,178.6 1643.47,187.3 1650.37,195.4 1657.28,203.9 1664.18,213 1671.09,221.7 1677.99,231.1 1684.9,239.6 1691.81,248.1 1698.71,257.7 1705.62,266.6 1712.52,275.1 1719.43,284.2 1726.33,292.7 1733.24,301.2 1740.15,309.7 1747.05,318.2 1753.96,326.7 1760.86,334.5 1767.77,342.6 1774.67,350 1781.58,357.23 1788.49,363.85 1795.39,369.77 1802.3,374.9 1809.2,379.43 1816.11,382.56 1823.01,385.26 1829.92,387.36 1836.83,388.86 1843.73,390.16 1850.64,390.96 1857.54,391.66 1864.45,392.06 1871.35,392.08 1878.26,392.1 1885.17,392.13 1892.07,392.15 1898.98,392.17 1905.88,392.19 1912.79,392.22 1919.69,392.24 1926.6,392.26" fill="none" stroke="#1c1c1c" stroke-width="1.2" stroke-linejoin="round"/>
<path d="M1441.05 142.05h4.3v4.3h-4.3zM1447.96 141.25h4.3v4.3h-4.3zM1454.86 137.15h4.3v4.3h-4.3zM1461.77 141.25h4.3v4.3h-4.3zM1468.67 106.45h4.3v4.3h-4.3zM1475.58 114.55h4.3v4.3h-4.3zM1482.48 112.15h4.3v4.3h-4.3zM1489.39 138.85h4.3v4.3h-4.3zM1496.3 150.95h4.3v4.3h-4.3zM1503.2 160.65h4.3v4.3h-4.3zM1510.11 133.15h4.3v4.3h-4.3zM1517.01 132.35h4.3v4.3h-4.3zM1523.92 132.35h4.3v4.3h-4.3zM1530.82 138.05h4.3v4.3h-4.3zM1537.73 133.95h4.3v4.3h-4.3zM1544.64 133.15h4.3v4.3h-4.3zM1551.54 131.85h4.3v4.3h-4.3zM1558.45 135.55h4.3v4.3h-4.3zM1565.35 135.05h4.3v4.3h-4.3zM1572.26 136.05h4.3v4.3h-4.3zM1579.16 137.65h4.3v4.3h-4.3zM1586.07 140.25h4.3v4.3h-4.3zM1592.98 142.05h4.3v4.3h-4.3zM1599.88 145.15h4.3v4.3h-4.3zM1606.79 149.15h4.3v4.3h-4.3zM1613.69 154.25h4.3v4.3h-4.3zM1620.6 160.35h4.3v4.3h-4.3zM1627.5 168.35h4.3v4.3h-4.3zM1634.41 176.45h4.3v4.3h-4.3zM1641.32 185.15h4.3v4.3h-4.3zM1648.22 193.25h4.3v4.3h-4.3zM1655.13 201.75h4.3v4.3h-4.3zM1662.03 210.85h4.3v4.3h-4.3zM1668.94 219.55h4.3v4.3h-4.3zM1675.84 228.95h4.3v4.3h-4.3zM1682.75 237.45h4.3v4.3h-4.3zM1689.66 245.95h4.3v4.3h-4.3zM1696.56 255.55h4.3v4.3h-4.3zM1703.47 264.45h4.3v4.3h-4.3zM1710.37 272.95h4.3v4.3h-4.3zM1717.28 282.05h4.3v4.3h-4.3zM1724.18 290.55h4.3v4.3h-4.3zM1731.09 299.05h4.3v4.3h-4.3zM1738 307.55h4.3v4.3h-4.3zM1744.9 316.05h4.3v4.3h-4.3zM1751.81 324.55h4.3v4.3h-4.3zM1758.71 332.35h4.3v4.3h-4.3zM1765.62 340.45h4.3v4.3h-4.3zM1772.52 347.85h4.3v4.3h-4.3zM1779.43 355.08h4.3v4.3h-4.3zM1786.34 361.7h4.3v4.3h-4.3zM1793.24 367.62h4.3v4.3h-4.3zM1800.15 372.75h4.3v4.3h-4.3zM1807.05 377.28h4.3v4.3h-4.3zM1813.96 380.41h4.3v4.3h-4.3zM1820.86 383.11h4.3v4.3h-4.3zM1827.77 385.21h4.3v4.3h-4.3zM1834.68 386.71h4.3v4.3h-4.3zM1841.58 388.01h4.3v4.3h-4.3zM1848.49 388.81h4.3v4.3h-4.3zM1855.39 389.51h4.3v4.3h-4.3zM1862.3 389.91h4.3v4.3h-4.3zM1869.2 389.93h4.3v4.3h-4.3zM1876.11 389.95h4.3v4.3h-4.3zM1883.02 389.98h4.3v4.3h-4.3zM1889.92 390h4.3v4.3h-4.3zM1896.83 390.02h4.3v4.3h-4.3zM1903.73 390.04h4.3v4.3h-4.3zM1910.64 390.07h4.3v4.3h-4.3zM1917.54 390.09h4.3v4.3h-4.3zM1924.45 390.11h4.3v4.3h-4.3z" fill="#1e2626"/>
<polyline points="1443.2,113.9 1450.11,113.5 1457.01,117.2 1463.92,109.7 1470.82,114.3 1477.73,115.1 1484.63,113 1491.54,114.3 1498.45,114.3 1505.35,115.6 1512.26,117.2 1519.16,118.8 1526.07,119.9 1532.97,121.5 1539.88,119.4 1546.79,122 1553.69,123.2 1560.6,123.2 1567.5,123.7 1574.41,125.9 1581.31,129 1588.22,132.2 1595.13,136.5 1602.03,142.2 1608.94,149.3 1615.84,157.4 1622.75,164.5 1629.65,172.6 1636.56,180.7 1643.47,189.8 1650.37,197.4 1657.28,205.9 1664.18,214.6 1671.09,223.7 1677.99,232.9 1684.9,241.4 1691.81,249.9 1698.71,259.5 1705.62,268.4 1712.52,276.9 1719.43,286 1726.33,294.5 1733.24,303 1740.15,311.5 1747.05,320 1753.96,328.5 1760.86,336.3 1767.77,344.4 1774.67,351.8 1781.58,358.8 1788.49,365.2 1795.39,370.9 1802.3,375.8 1809.2,380.1 1816.11,383.1 1823.01,385.8 1829.92,387.9 1836.83,389.4 1843.73,390.7 1850.64,391.5 1857.54,392.2 1864.45,392.6 1871.35,392.62 1878.26,392.64 1885.17,392.67 1892.07,392.69 1898.98,392.71 1905.88,392.73 1912.79,392.76 1919.69,392.78 1926.6,392.8" fill="none" stroke="#ff2020" stroke-width="1.2" stroke-linejoin="round"/>
<g fill="#ff2222"><circle cx="1443.2" cy="113.9" r="2.35"/><circle cx="1450.11" cy="113.5" r="2.35"/><circle cx="1457.01" cy="117.2" r="2.35"/><circle cx="1463.92" cy="109.7" r="2.35"/><circle cx="1470.82" cy="114.3" r="2.35"/><circle cx="1477.73" cy="115.1" r="2.35"/><circle cx="1484.63" cy="113" r="2.35"/><circle cx="1491.54" cy="114.3" r="2.35"/><circle cx="1498.45" cy="114.3" r="2.35"/><circle cx="1505.35" cy="115.6" r="2.35"/><circle cx="1512.26" cy="117.2" r="2.35"/><circle cx="1519.16" cy="118.8" r="2.35"/><circle cx="1526.07" cy="119.9" r="2.35"/><circle cx="1532.97" cy="121.5" r="2.35"/><circle cx="1539.88" cy="119.4" r="2.35"/><circle cx="1546.79" cy="122" r="2.35"/><circle cx="1553.69" cy="123.2" r="2.35"/><circle cx="1560.6" cy="123.2" r="2.35"/><circle cx="1567.5" cy="123.7" r="2.35"/><circle cx="1574.41" cy="125.9" r="2.35"/><circle cx="1581.31" cy="129" r="2.35"/><circle cx="1588.22" cy="132.2" r="2.35"/><circle cx="1595.13" cy="136.5" r="2.35"/><circle cx="1602.03" cy="142.2" r="2.35"/><circle cx="1608.94" cy="149.3" r="2.35"/><circle cx="1615.84" cy="157.4" r="2.35"/><circle cx="1622.75" cy="164.5" r="2.35"/><circle cx="1629.65" cy="172.6" r="2.35"/><circle cx="1636.56" cy="180.7" r="2.35"/><circle cx="1643.47" cy="189.8" r="2.35"/><circle cx="1650.37" cy="197.4" r="2.35"/><circle cx="1657.28" cy="205.9" r="2.35"/><circle cx="1664.18" cy="214.6" r="2.35"/><circle cx="1671.09" cy="223.7" r="2.35"/><circle cx="1677.99" cy="232.9" r="2.35"/><circle cx="1684.9" cy="241.4" r="2.35"/><circle cx="1691.81" cy="249.9" r="2.35"/><circle cx="1698.71" cy="259.5" r="2.35"/><circle cx="1705.62" cy="268.4" r="2.35"/><circle cx="1712.52" cy="276.9" r="2.35"/><circle cx="1719.43" cy="286" r="2.35"/><circle cx="1726.33" cy="294.5" r="2.35"/><circle cx="1733.24" cy="303" r="2.35"/><circle cx="1740.15" cy="311.5" r="2.35"/><circle cx="1747.05" cy="320" r="2.35"/><circle cx="1753.96" cy="328.5" r="2.35"/><circle cx="1760.86" cy="336.3" r="2.35"/><circle cx="1767.77" cy="344.4" r="2.35"/><circle cx="1774.67" cy="351.8" r="2.35"/><circle cx="1781.58" cy="358.8" r="2.35"/><circle cx="1788.49" cy="365.2" r="2.35"/><circle cx="1795.39" cy="370.9" r="2.35"/><circle cx="1802.3" cy="375.8" r="2.35"/><circle cx="1809.2" cy="380.1" r="2.35"/><circle cx="1816.11" cy="383.1" r="2.35"/><circle cx="1823.01" cy="385.8" r="2.35"/><circle cx="1829.92" cy="387.9" r="2.35"/><circle cx="1836.83" cy="389.4" r="2.35"/><circle cx="1843.73" cy="390.7" r="2.35"/><circle cx="1850.64" cy="391.5" r="2.35"/><circle cx="1857.54" cy="392.2" r="2.35"/><circle cx="1864.45" cy="392.6" r="2.35"/><circle cx="1871.35" cy="392.62" r="2.35"/><circle cx="1878.26" cy="392.64" r="2.35"/><circle cx="1885.17" cy="392.67" r="2.35"/><circle cx="1892.07" cy="392.69" r="2.35"/><circle cx="1898.98" cy="392.71" r="2.35"/><circle cx="1905.88" cy="392.73" r="2.35"/><circle cx="1912.79" cy="392.76" r="2.35"/><circle cx="1919.69" cy="392.78" r="2.35"/><circle cx="1926.6" cy="392.8" r="2.35"/></g>
<polyline points="1443.2,124 1450.11,126.4 1457.01,128.8 1463.92,130.4 1470.82,132.4 1477.73,133.4 1484.63,134.5 1491.54,135.6 1498.45,136.9 1505.35,137.7 1512.26,138.5 1519.16,139.8 1526.07,140.5 1532.97,141.4 1539.88,142.1 1546.79,142.6 1553.69,143.1 1560.6,143.4 1567.5,143.7 1574.41,144.2 1581.31,145.5 1588.22,147.6 1595.13,151.2 1602.03,155.4 1608.94,160.4 1615.84,167.5 1622.75,174.6 1629.65,182.1 1636.56,189.8 1643.47,197.8 1650.37,205.9 1657.28,214.4 1664.18,223 1671.09,231.9 1677.99,240.3 1684.9,248.4 1691.81,256.9 1698.71,264.8 1705.62,273.3 1712.52,281.8 1719.43,290.3 1726.33,298.7 1733.24,307.2 1740.15,315.7 1747.05,323.6 1753.96,331.7 1760.86,339.7 1767.77,347.6 1774.67,354.6 1781.58,361.4 1788.49,367.8 1795.39,373.1 1802.3,378 1809.2,381.6 1816.11,384.3 1823.01,386.5 1829.92,388.6 1836.83,389.6 1843.73,390.7 1850.64,391.5 1857.54,392.2 1864.45,392.6 1871.35,392.62 1878.26,392.64 1885.17,392.67 1892.07,392.69 1898.98,392.71 1905.88,392.73 1912.79,392.76 1919.69,392.78 1926.6,392.8" fill="none" stroke="#4a3cff" stroke-width="1.2" stroke-linejoin="round"/>
<g fill="#2f55ff"><circle cx="1443.2" cy="124" r="2.35"/><circle cx="1450.11" cy="126.4" r="2.35"/><circle cx="1457.01" cy="128.8" r="2.35"/><circle cx="1463.92" cy="130.4" r="2.35"/><circle cx="1470.82" cy="132.4" r="2.35"/><circle cx="1477.73" cy="133.4" r="2.35"/><circle cx="1484.63" cy="134.5" r="2.35"/><circle cx="1491.54" cy="135.6" r="2.35"/><circle cx="1498.45" cy="136.9" r="2.35"/><circle cx="1505.35" cy="137.7" r="2.35"/><circle cx="1512.26" cy="138.5" r="2.35"/><circle cx="1519.16" cy="139.8" r="2.35"/><circle cx="1526.07" cy="140.5" r="2.35"/><circle cx="1532.97" cy="141.4" r="2.35"/><circle cx="1539.88" cy="142.1" r="2.35"/><circle cx="1546.79" cy="142.6" r="2.35"/><circle cx="1553.69" cy="143.1" r="2.35"/><circle cx="1560.6" cy="143.4" r="2.35"/><circle cx="1567.5" cy="143.7" r="2.35"/><circle cx="1574.41" cy="144.2" r="2.35"/><circle cx="1581.31" cy="145.5" r="2.35"/><circle cx="1588.22" cy="147.6" r="2.35"/><circle cx="1595.13" cy="151.2" r="2.35"/><circle cx="1602.03" cy="155.4" r="2.35"/><circle cx="1608.94" cy="160.4" r="2.35"/><circle cx="1615.84" cy="167.5" r="2.35"/><circle cx="1622.75" cy="174.6" r="2.35"/><circle cx="1629.65" cy="182.1" r="2.35"/><circle cx="1636.56" cy="189.8" r="2.35"/><circle cx="1643.47" cy="197.8" r="2.35"/><circle cx="1650.37" cy="205.9" r="2.35"/><circle cx="1657.28" cy="214.4" r="2.35"/><circle cx="1664.18" cy="223" r="2.35"/><circle cx="1671.09" cy="231.9" r="2.35"/><circle cx="1677.99" cy="240.3" r="2.35"/><circle cx="1684.9" cy="248.4" r="2.35"/><circle cx="1691.81" cy="256.9" r="2.35"/><circle cx="1698.71" cy="264.8" r="2.35"/><circle cx="1705.62" cy="273.3" r="2.35"/><circle cx="1712.52" cy="281.8" r="2.35"/><circle cx="1719.43" cy="290.3" r="2.35"/><circle cx="1726.33" cy="298.7" r="2.35"/><circle cx="1733.24" cy="307.2" r="2.35"/><circle cx="1740.15" cy="315.7" r="2.35"/><circle cx="1747.05" cy="323.6" r="2.35"/><circle cx="1753.96" cy="331.7" r="2.35"/><circle cx="1760.86" cy="339.7" r="2.35"/><circle cx="1767.77" cy="347.6" r="2.35"/><circle cx="1774.67" cy="354.6" r="2.35"/><circle cx="1781.58" cy="361.4" r="2.35"/><circle cx="1788.49" cy="367.8" r="2.35"/><circle cx="1795.39" cy="373.1" r="2.35"/><circle cx="1802.3" cy="378" r="2.35"/><circle cx="1809.2" cy="381.6" r="2.35"/><circle cx="1816.11" cy="384.3" r="2.35"/><circle cx="1823.01" cy="386.5" r="2.35"/><circle cx="1829.92" cy="388.6" r="2.35"/><circle cx="1836.83" cy="389.6" r="2.35"/><circle cx="1843.73" cy="390.7" r="2.35"/><circle cx="1850.64" cy="391.5" r="2.35"/><circle cx="1857.54" cy="392.2" r="2.35"/><circle cx="1864.45" cy="392.6" r="2.35"/><circle cx="1871.35" cy="392.62" r="2.35"/><circle cx="1878.26" cy="392.64" r="2.35"/><circle cx="1885.17" cy="392.67" r="2.35"/><circle cx="1892.07" cy="392.69" r="2.35"/><circle cx="1898.98" cy="392.71" r="2.35"/><circle cx="1905.88" cy="392.73" r="2.35"/><circle cx="1912.79" cy="392.76" r="2.35"/><circle cx="1919.69" cy="392.78" r="2.35"/><circle cx="1926.6" cy="392.8" r="2.35"/></g>
</g>
<text x="-3.2" y="42.5" font-size="56.5">(a)</text>
<text x="675.5" y="42" font-size="56.5">(b)</text>
<text x="1328.5" y="42" font-size="56.5">(c)</text>
<text x="334.5" y="536" font-size="56.5">(d)</text>
<text x="335.5" y="706.5" font-size="56.5">(e)</text>
<text x="1069.5" y="560.5" font-size="56.5">(f)</text>
<text x="362.55" y="476.3" text-anchor="middle" font-size="25.6">Frequency (Hz)</text>
<text transform="translate(63.4 208.8) rotate(-90)" text-anchor="middle" font-size="25.9">|Z| (Ω·cm<tspan font-size="17" dy="-10">2</tspan><tspan dy="10">)</tspan></text>
<text transform="translate(671.5 210.3) rotate(-90)" text-anchor="middle" font-size="25.5">θ (°)</text>
<text x="1022.45" y="472" text-anchor="middle" font-size="25.6">Frequency (Hz)</text>
<text transform="translate(724.5 206) rotate(-90)" text-anchor="middle" font-size="25.9">|Z| (Ω·cm<tspan font-size="17" dy="-10">2</tspan><tspan dy="10">)</tspan></text>
<text transform="translate(1332.5 207) rotate(-90)" text-anchor="middle" font-size="25.5">θ (°)</text>
<text x="1685.2" y="473" text-anchor="middle" font-size="25.6">Frequency (Hz)</text>
<text transform="translate(1386.5 206.5) rotate(-90)" text-anchor="middle" font-size="25.9">|Z| (Ω·cm<tspan font-size="17" dy="-10">2</tspan><tspan dy="10">)</tspan></text>
<text transform="translate(1994.5 207.5) rotate(-90)" text-anchor="middle" font-size="25.5">θ (°)</text>
<text x="479.5" y="42.8" font-size="20.3" style="fill:#000;stroke:#000">Alloy A-0.5h</text>
<text x="479.5" y="67.8" font-size="20.3" style="fill:#ff0000;stroke:#ff0000">Alloy A-5h</text>
<text x="479.5" y="92.8" font-size="20.3" style="fill:#0000ff;stroke:#0000ff">Alloy A-12h</text>
<text x="1142" y="35.9" font-size="20.3" style="fill:#000;stroke:#000">Alloy B-0.5h</text>
<text x="1142" y="60.7" font-size="20.3" style="fill:#ff0000;stroke:#ff0000">Alloy B-5h</text>
<text x="1142" y="86" font-size="20.3" style="fill:#0000ff;stroke:#0000ff">Alloy B-12h</text>
<text x="1801.7" y="34.9" font-size="20.3" style="fill:#000;stroke:#000">Alloy C-0.5h</text>
<text x="1801.7" y="60.2" font-size="20.3" style="fill:#ff0000;stroke:#ff0000">Alloy C-5h</text>
<text x="1801.7" y="84.9" font-size="20.3" style="fill:#0000ff;stroke:#0000ff">Alloy C-12h</text>
<polyline points="422.6,566.4 459.9,566.4 471.27,578.2 494.02,554.6 516.77,578.2 539.52,554.6 550.9,566.4 630,566.4" fill="none" stroke="#000" stroke-width="3.8" stroke-linejoin="miter" />
<circle cx="630" cy="565.6" r="12.1" fill="#000"/>
<polyline points="630,566.4 700.4,566.4" fill="none" stroke="#000" stroke-width="3.8" stroke-linejoin="miter" />
<polyline points="688,554 700.4,566.4 688,578.8" fill="none" stroke="#000" stroke-width="3.8" stroke-linecap="round" stroke-linejoin="miter"/>
<polyline points="710.7,554 723.1,566.4 710.7,578.8" fill="none" stroke="#000" stroke-width="3.8" stroke-linecap="round" stroke-linejoin="miter"/>
<polyline points="721.5,566.4 906.7,566.4" fill="none" stroke="#000" stroke-width="3.8" stroke-linejoin="miter" stroke-linecap="round"/>
<polyline points="802.8,566.4 802.8,635.1 756.5,635.1 745.02,623.3 722.08,646.9 699.12,623.3 676.18,646.9 664.7,635.1 631.4,635.1 631.4,566.4" fill="none" stroke="#000" stroke-width="3.8" stroke-linejoin="miter" />
<text transform="translate(473.5 541) scale(1 1.06)" font-size="37" font-style="italic">R</text><text x="498.8" y="549.7" font-size="24" font-style="italic">s</text>
<text transform="translate(698.5 548) scale(1 1.06)" font-size="37" font-style="italic">Q</text><text x="725.5" y="556.2" font-size="24" font-style="italic">f</text>
<text transform="translate(691.6 620.2) scale(1 1.06)" font-size="37" font-style="italic">R</text><text x="716.8" y="628.3" font-size="24" font-style="italic">f</text>
<polyline points="393.8,751.8 421.3,751.8 432.76,763.6 455.69,740 478.61,763.6 501.54,740 513,751.8 590.6,751.8" fill="none" stroke="#000" stroke-width="3.8" stroke-linejoin="miter" />
<circle cx="590.6" cy="751.3" r="12" fill="#000"/>
<polyline points="590.6,751.8 661.5,751.8" fill="none" stroke="#000" stroke-width="3.8" stroke-linejoin="miter" />
<polyline points="650.3,740.6 661.5,751.8 650.3,763" fill="none" stroke="#000" stroke-width="3.8" stroke-linecap="round" stroke-linejoin="miter"/>
<polyline points="673,740.6 684.2,751.8 673,763" fill="none" stroke="#000" stroke-width="3.8" stroke-linecap="round" stroke-linejoin="miter"/>
<polyline points="682.6,751.8 1013.4,751.8" fill="none" stroke="#000" stroke-width="3.8" stroke-linejoin="miter" stroke-linecap="round"/>
<polyline points="955.7,751.8 955.7,888.4" fill="none" stroke="#000" stroke-width="3.8" stroke-linejoin="miter" />
<polyline points="592.3,751.8 592.3,820.1 625.9,820.1 637.32,831.9 660.17,808.3 683.02,831.9 705.88,808.3 717.3,820.1 795.6,820.1" fill="none" stroke="#000" stroke-width="3.8" stroke-linejoin="miter" />
<circle cx="795.6" cy="819.4" r="12" fill="#000"/>
<polyline points="795.6,820.1 866,820.1" fill="none" stroke="#000" stroke-width="3.8" stroke-linejoin="miter" />
<polyline points="854.7,808.8 866,820.1 854.7,831.4" fill="none" stroke="#000" stroke-width="3.8" stroke-linecap="round" stroke-linejoin="miter"/>
<polyline points="877.1,808.8 888.4,820.1 877.1,831.4" fill="none" stroke="#000" stroke-width="3.8" stroke-linecap="round" stroke-linejoin="miter"/>
<polyline points="886.8,820.1 955.7,820.1" fill="none" stroke="#000" stroke-width="3.8" stroke-linejoin="miter" />
<polyline points="796.8,820.1 796.8,888.4 831,888.4 842.39,900.2 865.16,876.6 887.94,900.2 910.71,876.6 922.1,888.4 955.7,888.4" fill="none" stroke="#000" stroke-width="3.8" stroke-linejoin="miter" />
<text transform="translate(451.8 729.2) scale(1 1.06)" font-size="37" font-style="italic">R</text><text x="477" y="737" font-size="24" font-style="italic">s</text>
<text transform="translate(655.5 729.5) scale(1 1.06)" font-size="37" font-style="italic">Q</text><text x="682" y="738.2" font-size="24" font-style="italic">f</text>
<text transform="translate(650.8 805.3) scale(1 1.06)" font-size="37" font-style="italic">R</text><text x="675.5" y="813.5" font-size="24" font-style="italic">f</text>
<text transform="translate(858 800.5) scale(1 1.06)" font-size="37" font-style="italic">Q</text><text x="884.2" y="811" font-size="24" font-style="italic">dl</text>
<text transform="translate(843.7 868.6) scale(1 1.06)" font-size="37" font-style="italic">R</text><text x="869" y="876.5" font-size="24" font-style="italic">ct</text>
<path d="M1154.7 898.41h3.4M1154.7 891.45h3.4M1154.7 886.51h3.4M1154.7 882.68h3.4M1154.7 879.56h3.4M1154.7 876.91h3.4M1154.7 874.62h3.4M1154.7 872.6h3.4M1154.7 870.79h7.5M1154.7 858.9h3.4M1154.7 851.94h3.4M1154.7 847h3.4M1154.7 843.17h3.4M1154.7 840.05h3.4M1154.7 837.4h3.4M1154.7 835.11h3.4M1154.7 833.09h3.4M1154.7 831.28h7.5M1154.7 819.39h3.4M1154.7 812.43h3.4M1154.7 807.49h3.4M1154.7 803.66h3.4M1154.7 800.54h3.4M1154.7 797.89h3.4M1154.7 795.6h3.4M1154.7 793.58h3.4M1154.7 791.77h7.5M1154.7 779.88h3.4M1154.7 772.92h3.4M1154.7 767.98h3.4M1154.7 764.15h3.4M1154.7 761.03h3.4M1154.7 758.38h3.4M1154.7 756.09h3.4M1154.7 754.07h3.4M1154.7 752.26h7.5M1154.7 740.37h3.4M1154.7 733.41h3.4M1154.7 728.47h3.4M1154.7 724.64h3.4M1154.7 721.52h3.4M1154.7 718.87h3.4M1154.7 716.58h3.4M1154.7 714.56h3.4M1154.7 712.75h7.5M1154.7 700.86h3.4M1154.7 693.9h3.4M1154.7 688.96h3.4M1154.7 685.13h3.4M1154.7 682.01h3.4M1154.7 679.36h3.4M1154.7 677.07h3.4M1154.7 675.05h3.4M1154.7 673.24h7.5M1154.7 661.35h3.4M1154.7 654.39h3.4M1154.7 649.45h3.4M1154.7 645.62h3.4M1154.7 642.5h3.4M1154.7 639.85h3.4M1154.7 637.56h3.4M1154.7 635.54h3.4M1154.7 633.73h7.5M1154.7 621.84h3.4M1154.7 614.88h3.4M1154.7 609.94h3.4M1154.7 606.11h3.4M1154.7 602.99h3.4M1154.7 600.34h3.4M1154.7 598.05h3.4M1154.7 596.03h3.4M1154.7 594.22h7.5M1154.7 582.33h3.4M1154.7 575.37h3.4M1154.7 570.43h3.4M1154.7 566.6h3.4M1154.7 563.48h3.4M1154.7 560.83h3.4M1154.7 558.54h3.4M1154.7 556.52h3.4M1154.7 554.71h7.5M1154.7 542.82h3.4M1154.7 535.86h3.4M1154.7 530.92h3.4M1154.7 527.09h3.4M1154.7 523.97h3.4M1154.7 521.32h3.4M1154.7 519.03h3.4M1154.7 517.01h3.4M1154.7 515.2h7.5M1210.1 910.3v-7.5M1320.9 910.3v-7.5M1431.7 910.3v-7.5M1542.5 910.3v-7.5M1265.5 910.3v-4.2M1376.3 910.3v-4.2M1487.1 910.3v-4.2M1597.9 910.3v-4.2" stroke="#000" stroke-width="2.0" fill="none"/>
<rect x="1154.7" y="508.2" width="498.6" height="402.1" fill="none" stroke="#000" stroke-width="2.6"/>
<text x="1144" y="523.8" text-anchor="end" font-size="26">1</text>
<text x="1144" y="602.82" text-anchor="end" font-size="26">0.01</text>
<text x="1144" y="681.84" text-anchor="end" font-size="26">1E−4</text>
<text x="1144" y="760.86" text-anchor="end" font-size="26">1E−6</text>
<text x="1144" y="839.88" text-anchor="end" font-size="26">1E−8</text>
<text x="1144" y="918.9" text-anchor="end" font-size="26">1E−10</text>
<text x="1210.1" y="939.5" text-anchor="middle" font-size="26">−1.0</text>
<text x="1320.9" y="939.5" text-anchor="middle" font-size="26">−0.5</text>
<text x="1431.7" y="939.5" text-anchor="middle" font-size="26">0.0</text>
<text x="1542.5" y="939.5" text-anchor="middle" font-size="26">0.5</text>
<text x="1653.3" y="939.5" text-anchor="middle" font-size="26">1.0</text>
<text x="1404.8" y="981" text-anchor="middle" font-size="26">E (V)</text>
<text transform="translate(1059 708.4) rotate(-90)" text-anchor="middle" font-size="26.5">I (A/cm<tspan font-size="17" dy="-10">2</tspan><tspan dy="10">)</tspan></text>
<polyline points="1209.1,697.7 1209.6,705 1210.7,712.2 1215.2,716.8 1222.8,722.8 1231.9,727.4 1241,730.4 1250.1,732.8 1259.2,735.6 1266.8,739 1271.3,742 1272.2,754.7 1273.4,747.8 1275.9,751.7 1277.4,756.2 1279.2,752 1280.3,770 1280.4,785" fill="none" stroke="#303030" stroke-width="2.8" stroke-linejoin="round" stroke-linecap="round"/>
<path d="M1280.4 785C1280.48 781.97 1280.68 774.98 1280.9 766.8C1281.12 758.62 1281.4 746.1 1281.7 735.9C1282 725.7 1282.28 714.2 1282.7 705.6C1283.12 697 1283.68 690.88 1284.2 684.3C1284.72 677.72 1285.28 671.42 1285.8 666.1C1286.32 660.78 1286.78 656.95 1287.3 652.4C1287.82 647.85 1288.35 642.88 1288.9 638.8C1289.45 634.72 1289.85 631.72 1290.6 627.9C1291.35 624.08 1292.03 619.77 1293.4 615.9C1294.77 612.03 1296.07 608.17 1298.8 604.7C1301.53 601.23 1305.45 597.97 1309.8 595.1C1314.15 592.23 1319 589.93 1324.9 587.5C1330.8 585.07 1337.62 582.77 1345.2 580.5C1352.78 578.23 1361.13 575.93 1370.4 573.9C1379.67 571.87 1390.68 569.88 1400.8 568.3C1410.92 566.72 1421.37 565.48 1431.1 564.4C1440.83 563.32 1449.35 562.58 1459.2 561.8C1469.05 561.02 1477.45 560.52 1490.2 559.7C1502.95 558.88 1520.53 557.78 1535.7 556.9C1550.87 556.02 1568.95 555.03 1581.2 554.4C1593.45 553.77 1604.53 553.32 1609.2 553.1" fill="none" stroke="#303030" stroke-width="2.8" stroke-linejoin="round" stroke-linecap="round"/>
<polyline points="1221.9,697.7 1221.9,716.8 1225.8,719.8 1234.9,724.4 1250.1,728 1265.3,731 1274.4,733.5 1279.8,737.1 1281,745.6 1281.9,782 1282.5,827.5 1283.2,869.9" fill="none" stroke="#ff2020" stroke-width="2.4" stroke-linejoin="round" stroke-linecap="round"/>
<path d="M1283.2 869.9C1283.23 860.3 1283.3 832 1283.4 812.3C1283.5 792.6 1283.47 772.87 1283.8 751.7C1284.13 730.53 1284.87 699.4 1285.4 685.3C1285.93 671.2 1286.48 672.42 1287 667.1C1287.52 661.78 1287.98 657.95 1288.5 653.4C1289.02 648.85 1289.55 643.88 1290.1 639.8C1290.65 635.72 1291.05 632.72 1291.8 628.9C1292.55 625.08 1293.23 620.77 1294.6 616.9C1295.97 613.03 1297.27 609.17 1300 605.7C1302.73 602.23 1306.65 598.97 1311 596.1C1315.35 593.23 1320.2 590.93 1326.1 588.5C1332 586.07 1338.82 583.77 1346.4 581.5C1353.98 579.23 1362.33 576.93 1371.6 574.9C1380.87 572.87 1391.88 570.88 1402 569.3C1412.12 567.72 1422.57 566.48 1432.3 565.4C1442.03 564.32 1450.55 563.58 1460.4 562.8C1470.25 562.02 1478.65 561.52 1491.4 560.7C1504.15 559.88 1521.73 558.78 1536.9 557.9C1552.07 557.02 1570.15 556.03 1582.4 555.4C1594.65 554.77 1605.73 554.32 1610.4 554.1" fill="none" stroke="#ff2020" stroke-width="2.6" stroke-linejoin="round" stroke-linecap="round"/>
<polyline points="1221.9,697.7 1222.8,715.3 1227.3,719.8 1238,723.7 1250.1,726.8 1265.3,730.4 1275.9,733.5 1279.8,736.5 1280.4,745.6 1281,769.9 1281.3,800.2" fill="none" stroke="#2a62f2" stroke-width="2.8" stroke-linejoin="round" stroke-linecap="round"/>
<path d="M1281.3 800.2C1281.35 794.63 1281.4 777.42 1281.6 766.8C1281.8 756.18 1282.18 746.6 1282.5 736.5C1282.82 726.4 1283.08 714.8 1283.5 706.2C1283.92 697.6 1284.48 691.48 1285 684.9C1285.52 678.32 1286.08 672.02 1286.6 666.7C1287.12 661.38 1287.58 657.55 1288.1 653C1288.62 648.45 1289.15 643.48 1289.7 639.4C1290.25 635.32 1290.65 632.32 1291.4 628.5C1292.15 624.68 1292.83 620.37 1294.2 616.5C1295.57 612.63 1296.87 608.77 1299.6 605.3C1302.33 601.83 1306.25 598.57 1310.6 595.7C1314.95 592.83 1319.8 590.53 1325.7 588.1C1331.6 585.67 1338.42 583.37 1346 581.1C1353.58 578.83 1361.93 576.53 1371.2 574.5C1380.47 572.47 1391.48 570.48 1401.6 568.9C1411.72 567.32 1422.17 566.08 1431.9 565C1441.63 563.92 1450.15 563.18 1460 562.4C1469.85 561.62 1478.25 561.12 1491 560.3C1503.75 559.48 1521.33 558.38 1536.5 557.5C1551.67 556.62 1569.75 555.63 1582 555C1594.25 554.37 1605.33 553.92 1610 553.7" fill="none" stroke="#2a62f2" stroke-width="2.8" stroke-linejoin="round" stroke-linecap="round"/>
<line x1="1173.8" x2="1222.3" y1="535" y2="535" stroke="#333333" stroke-width="2.6"/>
<text x="1227" y="542.3" font-size="21">Alloy A</text>
<line x1="1173.8" x2="1222.3" y1="560.5" y2="560.5" stroke="#ff2020" stroke-width="2.6"/>
<text x="1227" y="567.8" font-size="21">Alloy B</text>
<line x1="1173.8" x2="1222.3" y1="586.3" y2="586.3" stroke="#2b5ff0" stroke-width="2.6"/>
<text x="1227" y="593.6" font-size="21">Alloy C</text>
</svg>
</body></html>
